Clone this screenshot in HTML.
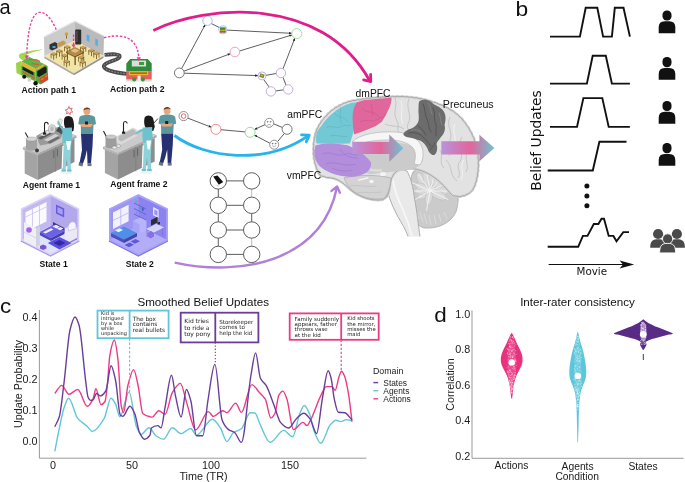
<!DOCTYPE html>
<html><head><meta charset="utf-8"><title>Figure</title>
<style>html,body{margin:0;padding:0;background:#fff;} body{width:685px;height:482px;overflow:hidden;} svg{display:block;}</style>
</head><body>
<svg width="685" height="482" viewBox="0 0 685 482">
<rect width="685" height="482" fill="#ffffff"/>
<defs>
<marker id="ah" viewBox="0 0 10 10" refX="9" refY="5" markerWidth="4" markerHeight="4" orient="auto-start-reverse"><path d="M0,1 L10,5 L0,9 Z" fill="#222"/></marker>
<linearGradient id="garr" x1="0" y1="0" x2="1" y2="0">
<stop offset="0" stop-color="#b894dc"/><stop offset="0.55" stop-color="#e2659b"/><stop offset="1" stop-color="#6dc3d3"/>
</linearGradient>
</defs>
<!-- graph 1 edges -->
<g stroke="#2a2a2a" stroke-width="0.75" fill="none">
<line x1="181.5" y1="68.8" x2="205.2" y2="24.8" marker-end="url(#ah)"/>
<line x1="211.2" y1="23.5" x2="219.5" y2="27.6"/>
<line x1="226.8" y1="30.1" x2="291.6" y2="33.3" marker-end="url(#ah)"/>
<line x1="184" y1="71.1" x2="230.2" y2="53.8" marker-end="url(#ah)"/>
<line x1="239.8" y1="50.9" x2="291.9" y2="35" marker-end="url(#ah)"/>
<line x1="184.2" y1="73.2" x2="257.8" y2="75.6" marker-end="url(#ah)"/>
<line x1="266" y1="75.3" x2="276.3" y2="73.5"/>
<line x1="263.8" y1="79.7" x2="269" y2="86.9"/>
<line x1="275.6" y1="91" x2="283.5" y2="89.8"/>
<line x1="286" y1="85.1" x2="283" y2="77.4"/>
<line x1="283" y1="68.8" x2="294.8" y2="38.3" marker-end="url(#ah)"/>
</g>
<g fill="#fff" stroke-width="0.8">
<circle cx="207.5" cy="20.7" r="4.7" stroke="#86b3e3"/>
<circle cx="222.8" cy="29.9" r="4" stroke="#86b3e3"/>
<circle cx="296.8" cy="33.6" r="5" stroke="#86d98a"/>
<circle cx="234.9" cy="52" r="4.8" stroke="#ee8aa8"/>
<circle cx="179.3" cy="72.9" r="4.9" stroke="#555"/>
<circle cx="262" cy="75.9" r="4" stroke="#b596e0"/>
<circle cx="280.9" cy="73" r="4.7" stroke="#b596e0"/>
<circle cx="270.9" cy="91.4" r="4.7" stroke="#b596e0"/>
<circle cx="288.2" cy="89.4" r="4.7" stroke="#b596e0"/>
</g>
<!-- tiny icons in graph1 nodes -->
<rect x="220" y="27.3" width="5.6" height="5.2" fill="#3f8f3a"/><rect x="220.3" y="29.8" width="5" height="1.4" fill="#e0a030"/><rect x="220" y="31.3" width="5.6" height="1.2" fill="#d04040"/>
<rect x="259.6" y="74" width="4.6" height="3.6" fill="#6b8a2a" transform="rotate(20 262 75.9)"/><rect x="260.5" y="74.8" width="2.6" height="1.6" fill="#e0a030" transform="rotate(20 262 75.9)"/>
<!-- graph 2 -->
<g stroke="#2a2a2a" stroke-width="0.75" fill="none">
<line x1="188" y1="118.2" x2="211.2" y2="127.2" marker-end="url(#ah)"/>
<line x1="220.9" y1="129.7" x2="245.1" y2="131.9"/>
<line x1="265.2" y1="124.6" x2="254.6" y2="129.4" marker-end="url(#ah)"/>
<line x1="269.8" y1="143.2" x2="254.6" y2="135.2" marker-end="url(#ah)"/>
<line x1="273.6" y1="123.8" x2="282.2" y2="127.4"/>
<line x1="284.4" y1="133.4" x2="277.6" y2="141.6"/>
</g>
<g fill="#fff" stroke-width="0.8">
<circle cx="183.6" cy="116.1" r="4.6" stroke="#777"/>
<circle cx="215.9" cy="129.3" r="5" stroke="#ef6f6f"/>
<circle cx="250.1" cy="132.3" r="5" stroke="#7fcf88"/>
<circle cx="269.2" cy="122.8" r="4.5" stroke="#777"/>
<circle cx="287.1" cy="129.3" r="5" stroke="#555"/>
<circle cx="274.2" cy="144.7" r="4.5" stroke="#777"/>
</g>
<circle cx="183.6" cy="116.1" r="2.3" fill="none" stroke="#e04848" stroke-width="0.8"/>
<g fill="none" stroke="#666" stroke-width="0.5">
<circle cx="267.7" cy="121.7" r="0.5" fill="#666"/><circle cx="270.7" cy="121.7" r="0.5" fill="#666"/>
<path d="M267.2,125.3 Q269.2,123.4 271.2,125.3"/>
<circle cx="272.7" cy="143.6" r="0.5" fill="#666"/><circle cx="275.7" cy="143.6" r="0.5" fill="#666"/>
<path d="M272.2,145.6 Q274.2,147.6 276.2,145.6"/>
</g>
<!-- graph 3 ladder -->
<g stroke="#333" stroke-width="0.8" fill="#fff">
<line x1="226.5" y1="180.9" x2="243.5" y2="180.9"/>
<line x1="226.5" y1="205.3" x2="243.5" y2="205.3"/>
<line x1="226.5" y1="230" x2="243.5" y2="230"/>
<line x1="226.5" y1="254.4" x2="243.5" y2="254.4"/>
<line x1="218.3" y1="189.1" x2="218.3" y2="197.1"/>
<line x1="218.3" y1="213.5" x2="218.3" y2="221.8"/>
<line x1="218.3" y1="238.2" x2="218.3" y2="246.2"/>
<line x1="251.7" y1="189.1" x2="251.7" y2="197.1" stroke="#aaa"/>
<line x1="251.7" y1="213.5" x2="251.7" y2="221.8"/>
<line x1="251.7" y1="238.2" x2="251.7" y2="246.2" stroke="#aaa"/>
<circle cx="218.3" cy="180.9" r="8.2"/><circle cx="251.7" cy="180.9" r="8.2"/>
<circle cx="218.3" cy="205.3" r="8.2"/><circle cx="251.7" cy="205.3" r="8.2"/>
<circle cx="218.3" cy="230" r="8.2"/><circle cx="251.7" cy="230" r="8.2"/>
<circle cx="218.3" cy="254.4" r="8.2"/><circle cx="251.7" cy="254.4" r="8.2"/>
</g>
<path d="M213.2,176.6 L217.5,175.6 L223.2,182 L218.8,184.8 Z" fill="#111"/>
<path d="M215.5,184.6 L219.5,186 L218,186.6 Z" fill="#bbb"/>
<!-- arcs -->
<path d="M153.3,30.4 C205,5 322,-6 369.8,81" fill="none" stroke="#e01e8b" stroke-width="2.8"/>
<polyline points="370.6,74.4 370.8,81.6 363.6,79.9" fill="none" stroke="#e01e8b" stroke-width="2.8" stroke-linecap="round" stroke-linejoin="round"/>
<path d="M174.4,135.5 C205,158 265,166 308.8,135.3" fill="none" stroke="#27b4ea" stroke-width="2.8"/>
<polyline points="301.5,134.9 309.3,135.1 306.2,141.8" fill="none" stroke="#27b4ea" stroke-width="2.8" stroke-linecap="round" stroke-linejoin="round"/>
<path d="M174.7,262.6 C240,277 322,262 337,187" fill="none" stroke="#b07fd8" stroke-width="2.4"/>
<polyline points="331.5,190.9 337.1,186.5 339.9,192.7" fill="none" stroke="#b07fd8" stroke-width="2.4" stroke-linecap="round" stroke-linejoin="round"/>

<defs><g id="chair"><polygon points="0,0 3.2,-1.6 6.4,0 3.2,1.6" fill="#c9a15a"/><polygon points="0,0 3.2,1.6 3.2,2.4 0,0.8" fill="#8f6a2e"/><polygon points="3.2,1.6 6.4,0 6.4,0.8 3.2,2.4" fill="#7d5c28"/><rect x="0.2" y="0.6" width="0.8" height="4.2" fill="#7a5a24"/><rect x="2.8" y="2" width="0.8" height="4.2" fill="#6a4c1e"/><rect x="5.4" y="0.6" width="0.8" height="4.2" fill="#7a5a24"/></g></defs>
<!-- ===== Restaurant room ===== -->
<g>
<polygon points="43.9,36.9 75,21.1 75,40.5 44.4,56.3" fill="#cbcbcb"/>
<polygon points="75,21.1 104,36 103.5,56 75,40.5" fill="#bababa"/>
<polyline points="43.9,36.9 75,21.1 104,36" fill="none" stroke="#e6e6e6" stroke-width="1.2"/>
<polygon points="44.4,56.3 75,40.5 103.5,56 74,73.2" fill="#f1e5a5"/>
<polygon points="44.4,56.3 74,73.2 74,75.2 44.4,58.2" fill="#a9a9a9"/>
<polygon points="74,73.2 103.5,56 103.5,58 74,75.2" fill="#969696"/>
<rect x="75.2" y="29.5" width="6" height="15" rx="1" fill="#2e2e2e"/>
<rect x="75.8" y="31" width="2" height="11" fill="#4a4a4a"/>
<polygon points="86.6,34.2 89.4,35.6 89.4,42 86.6,40.6" fill="#55aee6"/>
<polygon points="95.3,38.4 97.9,39.7 97.9,46.2 95.3,44.9" fill="#55aee6"/>
<circle cx="66.5" cy="34" r="1.8" fill="#d4a629"/><rect x="66" y="35.5" width="1" height="3" fill="#8a6a20"/>
<polygon points="49.5,44.5 55,42 57.5,43.5 57.5,48 52,50.5 49.5,49" fill="#333"/>
<rect x="52.5" y="46" width="3" height="2" fill="#4fa4d8"/>
<polygon points="57,43.5 63,40.5 65.5,41.8 65.5,44 59.5,47 57,45.7" fill="#c69a48"/>
<!-- tables & chairs -->

<polygon points="66,51.5 75,47 84,51.5 75,56" fill="#b58c45"/>
<polygon points="66,51.5 75,56 75,57.5 66,53" fill="#8a6428"/>
<polygon points="75,56 84,51.5 84,53 75,57.5" fill="#76551f"/>
<rect x="67" y="53" width="1" height="8" fill="#6e4e1e"/><rect x="74.5" y="57" width="1.2" height="8" fill="#5e421a"/><rect x="82.5" y="53" width="1" height="8" fill="#6e4e1e"/>
<polygon points="71,50.8 75,48.8 79,50.8 75,52.8" fill="#d9d3c4"/>
<ellipse cx="75" cy="50.8" rx="2.2" ry="1.1" fill="#f0b070"/>
<use href="#chair" transform="translate(61.5,55)"/>
<use href="#chair" transform="translate(78,56.8)"/>
<use href="#chair" transform="translate(63.5,61)"/>
<use href="#chair" transform="translate(79.5,61.5)"/>
<use href="#chair" transform="translate(64,46.5)"/>
<use href="#chair" transform="translate(80,47)"/>
<use href="#chair" transform="translate(50.5,53.5)"/>
<use href="#chair" transform="translate(56.2,50.5)"/>
<use href="#chair" transform="translate(88.2,50)"/>
<use href="#chair" transform="translate(93.2,52.8)"/>
</g>
<!-- road -->
<path d="M104.5,54.8 C112,54 121,53.5 119.5,57.2 C117.5,60.5 106,61.5 104,65.5 C102.5,69.5 113,72.5 127,73.8" fill="none" stroke="#4b4b4b" stroke-width="3.8" stroke-linecap="butt"/>
<path d="M104.5,54.8 C112,54 121,53.5 119.5,57.2 C117.5,60.5 106,61.5 104,65.5 C102.5,69.5 113,72.5 127,73.8" fill="none" stroke="#e8e8e8" stroke-width="0.5" stroke-dasharray="1.5,1.5"/>
<!-- store -->
<g>
<polygon points="126.3,63.4 130.2,59 147.7,59 151.7,63.4 151.7,71.5 126.3,71.5" fill="#2f8a3b"/>
<rect x="131.8" y="60.5" width="14.3" height="6" fill="#d8dfd8"/>
<rect x="139" y="62" width="5" height="3" fill="#3a9a40"/>
<rect x="126.3" y="71.3" width="25.4" height="8.4" fill="#e85c5e"/>
<rect x="128.9" y="71.2" width="19.3" height="4" fill="#efb22a"/>
<rect x="130" y="72.5" width="17" height="1.2" fill="#7a5a10"/>
<rect x="126.3" y="79.6" width="25.4" height="1.9" fill="#d8d8d8"/>
<rect x="137.6" y="75.6" width="3" height="5.5" fill="#eee"/>
<circle cx="134.2" cy="79.4" r="2" fill="#2f9a3b"/><circle cx="142.9" cy="79.4" r="2" fill="#2f9a3b"/>
</g>
<!-- food truck -->
<g>
<path d="M20.5,53.6 C26,51.5 36,49.5 43.5,49.4 C37,51 30,52.6 27,54.5 C25,56 28,58 31,58.5 L24,60.5 C19,59.5 17.5,55 20.5,53.6 Z" fill="#a6d64e"/>
<polygon points="16,63 21,61 21.5,75.5 16.5,73" fill="#9cd24a"/>
<polygon points="21.2,61.6 29.5,57 44,64.1 35.7,69.1" fill="#5db64a"/>
<path d="M29,59.8 C31,58.6 33,60.6 35.5,59.8 C37,59.3 38,61 40,61.5 M31.5,64 C34,62.8 36,65 39,64.3" stroke="#e2573c" stroke-width="1.3" fill="none"/>
<polygon points="21.2,61.6 35.7,69.1 35.7,72.5 21.2,65" fill="#efad2a"/>
<polygon points="21.2,65 35.7,72.5 35.7,81.5 21.2,74.9" fill="#5fae3c"/>
<polygon points="22.5,66.5 33.5,72.2 33.5,75.5 22.5,69.8" fill="#1e1e1e"/>
<path d="M23,72 C26,73 28,76 31,76 C32,77 34,78 35,78.5" stroke="#e0503a" stroke-width="1.2" fill="none"/>
<polygon points="35.7,69.1 44,64.1 47.6,66 48.2,79.9 40.5,84.5 35.7,81.5" fill="#58a83c"/>
<polygon points="35.7,69.1 44,64.1 45.5,65 37,70.2" fill="#efad2a"/>
<polygon points="37.2,71.2 45,66.6 46.6,67.8 46.6,72.5 39,77 37.2,76" fill="#1e1e1e"/>
<polygon points="39.5,78.5 47.8,73.6 48.2,79.6 41,83.8" fill="#d5482e"/>
<path d="M41,80 L44,78 M45,77 L47.5,75.5" stroke="#f0a020" stroke-width="0.8"/>
<circle cx="24.2" cy="76.8" r="2" fill="#111"/>
<circle cx="35.6" cy="83.2" r="2.2" fill="#111"/>
<rect x="27.8" y="77.5" width="3" height="4" fill="#cfcfcf"/>
</g>
<!-- pink dashed arrows -->
<g fill="none" stroke="#e63fa4" stroke-width="1.4" stroke-dasharray="2.4,1.6">
<path d="M26.8,57.5 C27,38 30,14 39.2,12.4 C47,11.5 53,22 56.6,30.5"/>
<path d="M73.6,34.5 L73.6,45"/>
<path d="M103.9,37.8 C110,36.2 114,35.8 119,36 C131,37 138,44 138.8,58"/>
</g>
<polygon points="24.6,55.6 29,55.6 26.8,59.4" fill="#e63fa4"/>
<polygon points="71.5,44.5 75.7,44.5 73.6,48" fill="#e63fa4"/>
<polygon points="136.6,57.2 141,57.2 138.8,61.2" fill="#e63fa4"/>

<!-- ===== Kitchen scenes ===== -->
<g id="kitc">
<polygon points="24.7,150 37.8,155 37.8,180 24.7,173.5" fill="#a4a4a4"/>
<polygon points="37.8,155 74.5,138.5 74.5,162 37.8,180" fill="#8d8d8d"/>
<polygon points="22.8,147.2 61,129.5 76.5,135.5 37.8,153.3" fill="#cacaca"/>
<polygon points="22.8,147.2 37.8,153.3 37.8,155.6 22.8,149.4" fill="#b4b4b4"/>
<polygon points="37.8,153.3 76.5,135.5 76.5,137.8 37.8,155.6" fill="#a9a9a9"/>
<line x1="55.6" y1="147.5" x2="55.6" y2="171.8" stroke="#7a7a7a" stroke-width="0.6"/>
<line x1="53.8" y1="150.5" x2="53.8" y2="158" stroke="#5e5e5e" stroke-width="0.9"/>
<line x1="57.4" y1="148.8" x2="57.4" y2="156.3" stroke="#5e5e5e" stroke-width="0.9"/>
</g>
<use href="#kitc" transform="translate(80.2,-0.5)"/>
<!-- clutter frame 1 -->
<g>
<line x1="25.2" y1="132.5" x2="28.8" y2="139" stroke="#2a2a2a" stroke-width="1.1"/>
<path d="M26,139 L37,139 L37,149 C35,151 28,151 26,149 Z" fill="#a3a3a3"/>
<ellipse cx="31.5" cy="139" rx="5.5" ry="2" fill="#d6d6d6" stroke="#8a8a8a" stroke-width="0.4"/>
<circle cx="37" cy="150.5" r="1.9" fill="#3a3a3a"/>
<path d="M36,136 L46,130.5 L58,127 L63,130 L61,138 L51,143.5 L40,145.5 Z" fill="#9a9a9a"/>
<path d="M38,138 L50,131.5 L53,133 L41,139.5 Z" fill="#5a5a5a"/>
<path d="M40,135 L48,130.5 L52,131.5 L44,136 Z" fill="#e6e6e6"/>
<path d="M44,140 L55,134 L59,135.5 L48,141.5 Z" fill="#d0d0d0"/>
<path d="M47,142 L58,136.5 L60,138 L50,143.5 Z" fill="#6e6e6e"/>
<ellipse cx="52" cy="129" rx="3.6" ry="4.2" fill="#dcdcdc" stroke="#8d8d8d" stroke-width="0.5"/>
<ellipse cx="52" cy="129" rx="1.8" ry="2.4" fill="#b8b8b8"/>
<path d="M56,131 L60,125 L63,127 L60.5,133 Z" fill="#4a4a4a"/>
<path d="M44.5,134 L44.5,124.5 C44.5,121.5 48,121.5 48.2,124.5" fill="none" stroke="#222" stroke-width="1.1"/>
<rect x="43" y="132.5" width="3.2" height="2.2" fill="#222"/>
<path d="M57,124 L59.5,118.5 L62.5,120 L60.5,125.5 Z" fill="#efefef" stroke="#9a9a9a" stroke-width="0.4"/>
<path d="M59,132 L66,128 L67,130.5 L61,134.5 Z" fill="#555"/>
</g>
<!-- clutter frame 2 -->
<g>
<line x1="103.5" y1="131" x2="107" y2="138" stroke="#2a2a2a" stroke-width="1.1"/>
<path d="M105.5,137 L116.5,137 L116.5,147 C114,149 108,149 105.5,147 Z" fill="#9d9d9d"/>
<ellipse cx="111" cy="137" rx="5.5" ry="2.1" fill="#c9c9c9" stroke="#888" stroke-width="0.4"/>
<ellipse cx="114.5" cy="147.5" rx="2.4" ry="1.5" fill="#e9e9e9" stroke="#777" stroke-width="0.4"/>
<ellipse cx="118.5" cy="146" rx="2.2" ry="1.4" fill="#e9e9e9" stroke="#777" stroke-width="0.4"/>
<path d="M117,136 L133,127.5 L137,129.5 L137,136 L121,144.5 L117,142.5 Z" fill="#dadada"/>
<path d="M118.5,136.5 L132.5,129 L135.5,130.5 L135.5,134 L121.5,141.5 L118.5,140 Z" fill="#b9b9b9"/>
<path d="M123.5,132.5 L123.5,123.5 C123.5,120.8 127,120.8 127.2,123.5" fill="none" stroke="#222" stroke-width="1.1"/>
<rect x="122" y="131.6" width="3.2" height="2.2" fill="#222"/>
<ellipse cx="150.5" cy="126.5" rx="4.2" ry="3.6" fill="#2f2f2f"/>
<line x1="153" y1="124" x2="158" y2="118.5" stroke="#444" stroke-width="1"/>
</g>

<g id="kitp">
<!-- woman -->
<path d="M64.2,119 C64.6,115.2 71.4,115 72.8,118.8 C74,122 74.6,127 73.4,131 L71,132 L70,128.5 L65.5,128.5 C64,126 63.6,122 64.2,119 Z" fill="#1c1c1c"/>
<path d="M62.5,128 L72,127.5 L72.2,141 L71,145 L63,145 L62.2,138 Z" fill="#6cc3cf"/>
<path d="M63,143 L71.2,143 L70.5,160 L71,170 L67.5,170.5 L66.8,158 L65.5,170.5 L62.2,170 L62.4,155 Z" fill="#8ed2db"/>
<path d="M66,141 L71,141 L69.5,150 L67.5,150 Z" fill="#ffffff"/>
<line x1="63" y1="146" x2="62.2" y2="168" stroke="#fff" stroke-width="1.2"/>
<rect x="61.5" y="169.5" width="4.5" height="2.2" fill="#6cc3cf"/><rect x="67" y="169.5" width="4.5" height="2.2" fill="#6cc3cf"/>
<!-- man -->
<circle cx="86.9" cy="111.5" r="3.4" fill="#e9a67b"/>
<path d="M83.4,110.5 C83.4,106.5 90.4,106.5 90.4,110 L88.5,109 L85,109.5 Z" fill="#6a3418"/>
<path d="M79.5,117 C80.5,115.5 84,115 87,115 C90,115 94,115.5 95,117.5 L96,124 L93.5,125 L93,134 L81,134 L80.8,125 L78.3,124 Z" fill="#5a979e"/>
<path d="M80,124 L93,124 L91,127 L82,127 Z" fill="#e9a67b"/>
<rect x="85" y="121.5" width="3" height="3" fill="#222"/>
<path d="M81,134 L93,134 L92.5,146 L91,163.5 L87.5,163.5 L87,150 L85,158 L82.5,165 L79.5,163 L82,150 Z" fill="#273171"/>
<path d="M79,162 L83,163.5 L82.5,166.5 L78.5,165.5 Z" fill="#6b7580"/>
<rect x="87.5" y="163.3" width="4" height="2.8" fill="#6b7580"/>
<ellipse cx="66" cy="173" rx="6" ry="1.3" fill="#eef2f3"/>
</g>
<use href="#kitp" transform="translate(80.2,-0.5)"/>

<path d="M63.5,130 L60,126 L58.5,122" stroke="#6cc3cf" stroke-width="2" fill="none" stroke-linecap="round"/>
<path d="M143.6,129.5 L139.5,131.5 L136,133.5" stroke="#6cc3cf" stroke-width="2" fill="none" stroke-linecap="round"/>

<!-- star burst -->
<path d="M69,106.5 L69.8,108.8 L72.2,108.2 L71,110.3 L72.8,112 L70.4,112.2 L70,114.6 L68.6,112.7 L66.5,113.8 L67.2,111.5 L65.2,110 L67.6,109.4 Z" fill="#fff" stroke="#d93040" stroke-width="0.7"/>

<!-- ===== State rooms ===== -->
<g>
<polygon points="50.5,193.9 79.3,208.4 79.3,241 50.5,256 20.8,241 20.8,208.4" fill="#d8d1f8"/>
<polygon points="22.6,209.5 50.5,196 50.5,226 22.6,239.8" fill="#c4b8f0"/>
<polygon points="50.5,196 77.5,209.5 77.5,239.8 50.5,226" fill="#b4a8ed"/>
<polygon points="22.6,239.8 50.5,226 77.5,239.8 50.5,253.6" fill="#dfe3f8"/>
<polyline points="20.8,241 50.5,256 79.3,241" fill="none" stroke="#a898ea" stroke-width="1.2"/>
<polygon points="25.5,212.2 46.5,202 46.5,221.6 25.5,231.8" fill="#fbfbff"/>
<g stroke="#cfc6f2" stroke-width="0.9"><line x1="32.5" y1="208.8" x2="32.5" y2="228.4"/><line x1="39.5" y1="205.4" x2="39.5" y2="225"/><line x1="25.5" y1="217" x2="46.5" y2="206.8"/></g>
<polygon points="56,204.5 64.2,208.6 64.2,217.6 56,213.5" fill="#6a5ce2"/>
<polygon points="57.5,207 62.7,209.6 62.7,215 57.5,212.4" fill="#a7a0f2"/>
<polygon points="53,222 64.4,228 64.4,231 53,225" fill="#3d3680"/>
<polygon points="39.5,232 53,225 64.4,231 51,238" fill="#6c62e6"/>
<polygon points="39.5,232 51,238 51,241 39.5,235" fill="#4f46c0"/>
<polygon points="51,238 64.4,231 64.4,234 51,241" fill="#463ea8"/>
<polygon points="52.5,226.5 56,224.8 60,226.8 56.5,228.5" fill="#eceaff"/>
<polygon points="56.8,228.7 60.3,227 63.6,228.6 60.1,230.3" fill="#eceaff"/>
<polygon points="43,232.2 51,228.2 53.5,229.5 45.5,233.5" fill="#f2f0ff"/>
<polygon points="24,222 36,228 36,247 24,241" fill="#efeff7"/>
<polygon points="36,228 39.8,226 39.8,245 36,247" fill="#d2d0e4"/>
<line x1="24" y1="232" x2="36" y2="238" stroke="#cfcde0" stroke-width="0.8"/>
<circle cx="29" cy="230" r="2.8" fill="#a262ea"/>
<polygon points="47.8,243 59.5,237 71.7,243 59.5,249.5" fill="#5a4ee0"/>
<polygon points="53.5,243 59.5,240 65.5,243 59.5,246" fill="#3428a8"/>
<polygon points="65,228.5 72,225 77,227.5 77,238 70,241.5 65,239" fill="#ebe8f5"/>
<polygon points="70,241.5 77,238 77,239.5 70,243" fill="#8a82c0"/>
<path d="M68.2,228 C68,221.5 75.8,219 76,226 L76,228.5 L68.5,231 Z" fill="#f5f4fc" stroke="#b0a8d8" stroke-width="0.5"/>
<polygon points="40,246 43.2,244.4 46.4,246 46.4,248.5 43.2,250.1 40,248.5" fill="#7a52d6"/>
</g>
<g>
<polygon points="138.4,194 168,208.4 168,241 138.4,256 109,241 109,208.4" fill="#aaa3f6"/>
<polygon points="110.8,209.5 138.4,196.2 138.4,226 110.8,239.6" fill="#9d95f3"/>
<polygon points="138.4,196.2 166.2,209.5 166.2,239.6 138.4,226" fill="#8b83ef"/>
<polygon points="110.8,239.6 138.4,226 166.2,239.6 138.4,253.4" fill="#b3adf8"/>
<polyline points="109,241 138.4,256 168,241" fill="none" stroke="#7d74e8" stroke-width="1.2"/>
<polygon points="113,212.5 128.6,204.8 128.6,221.2 113,228.9" fill="#f2f2ff"/>
<g stroke="#b5b0f6" stroke-width="0.8"><line x1="120.8" y1="208.6" x2="120.8" y2="225"/><line x1="113" y1="220.5" x2="128.6" y2="212.8"/></g>
<g stroke="#6a62da" stroke-width="1"><line x1="134" y1="203" x2="146" y2="209"/><line x1="134" y1="208.5" x2="146" y2="214.5"/><line x1="134" y1="214" x2="146" y2="220"/></g>
<rect x="135.5" y="199.8" width="1.6" height="3.2" fill="#4fb0e0"/><rect x="138" y="200.8" width="1.6" height="3" fill="#e070b0"/>
<rect x="139.5" y="206.8" width="1.6" height="2.8" fill="#3f9fd0"/><rect x="142" y="207.8" width="1.6" height="3" fill="#5050c0"/>
<rect x="136" y="211.6" width="1.6" height="2.8" fill="#8090e8"/>
<polygon points="153,207 158.7,209.8 158.7,218 153,215.2" fill="#e2dfff"/>
<polygon points="154.3,209.4 157.4,211 157.4,215.8 154.3,214.2" fill="#9a92f0"/>
<polygon points="133,221 140,217.6 146.5,220.8 146.5,230 139.5,233.5 133,230.2" fill="#b8b4fa"/>
<polygon points="133,221 139.5,224.2 139.5,233.5 133,230.2" fill="#a8a3f6"/>
<polygon points="111,233 124,226.5 137,233 124,239.5" fill="#4f90e6"/>
<polygon points="111,233 124,239.5 124,243 111,236.5" fill="#4a4fc6"/>
<polygon points="124,239.5 137,233 137,236.5 124,243" fill="#4246b0"/>
<polygon points="115,230.5 119.5,228.3 123,230 118.5,232.2" fill="#e9f0ff"/>
<polygon points="146,229 156.5,223.8 164,227.6 153.5,232.8" fill="#d6d4fb"/>
<polygon points="146,229 153.5,232.8 153.5,234 146,230.2" fill="#9a94e8"/>
<line x1="147" y1="230" x2="147" y2="237" stroke="#7a72d8" stroke-width="0.8"/><line x1="162.5" y1="228.5" x2="162.5" y2="235.5" stroke="#7a72d8" stroke-width="0.8"/>
<polygon points="151,220 157.5,216.8 157.5,222.5 151,225.7" fill="#2e2e3a"/>
<rect x="157.5" y="222" width="2.5" height="2.5" fill="#2e2e3a"/>
<path d="M147.5,233 L151,231 L154,233 L154,236.5 L150.5,238.5 L147.5,236.5 Z" fill="#8a6ee8"/>
<polygon points="124.5,245 129.5,242.5 134,244.8 129,247.3" fill="#5a5ad6"/>
<polygon points="130.5,241.5 135.5,239 140,241.3 135,243.8" fill="#6558d8"/>
</g>

<g>
<!-- cerebellum -->
<path d="M413,172 C420,165 440,164 452,171 C459,180 460,200 456,212 C451,223 438,229 425,228 C416,227 411,215 411,200 C410,188 410,178 413,172 Z" fill="#cbcbcb" stroke="#ababab" stroke-width="0.8"/>
<clipPath id="cbclip"><path d="M413,172 C420,165 440,164 452,171 C459,180 460,200 456,212 C451,223 438,229 425,228 C416,227 411,215 411,200 C410,188 410,178 413,172 Z"/></clipPath>
<g clip-path="url(#cbclip)">
<ellipse cx="423.7" cy="182.0" rx="11.0" ry="4.5" transform="rotate(-125 423.7 182.0)" fill="#dadada" stroke="#bdbdbd" stroke-width="0.5"/><ellipse cx="427.7" cy="178.2" rx="13.0" ry="4.5" transform="rotate(-100 427.7 178.2)" fill="#dadada" stroke="#bdbdbd" stroke-width="0.5"/><ellipse cx="433.4" cy="178.4" rx="13.0" ry="4.5" transform="rotate(-75 433.4 178.4)" fill="#dadada" stroke="#bdbdbd" stroke-width="0.5"/><ellipse cx="438.0" cy="181.4" rx="12.5" ry="4.5" transform="rotate(-50 438.0 181.4)" fill="#dadada" stroke="#bdbdbd" stroke-width="0.5"/><ellipse cx="440.4" cy="186.1" rx="11.5" ry="4.2" transform="rotate(-25 440.4 186.1)" fill="#dadada" stroke="#bdbdbd" stroke-width="0.5"/><ellipse cx="440.0" cy="191.0" rx="10.0" ry="4.0" transform="rotate(0 440.0 191.0)" fill="#dadada" stroke="#bdbdbd" stroke-width="0.5"/><ellipse cx="438.2" cy="194.8" rx="9.0" ry="4.0" transform="rotate(25 438.2 194.8)" fill="#dadada" stroke="#bdbdbd" stroke-width="0.5"/><ellipse cx="423.9" cy="194.5" rx="7.0" ry="3.5" transform="rotate(150 423.9 194.5)" fill="#dadada" stroke="#bdbdbd" stroke-width="0.5"/><ellipse cx="422.5" cy="191.0" rx="7.5" ry="3.5" transform="rotate(180 422.5 191.0)" fill="#dadada" stroke="#bdbdbd" stroke-width="0.5"/><ellipse cx="422.7" cy="187.6" rx="8.0" ry="3.5" transform="rotate(205 422.7 187.6)" fill="#dadada" stroke="#bdbdbd" stroke-width="0.5"/><ellipse cx="428.8" cy="197.9" rx="7.0" ry="3.5" transform="rotate(100 428.8 197.9)" fill="#dadada" stroke="#bdbdbd" stroke-width="0.5"/>
<path d="M430,191 L418.5,174.6 M430,191 L426.5,171.3 M430,191 L435.2,171.7 M430,191 L442.9,175.7 M430,191 L448.1,182.5 M430,191 L450.0,191.0 M430,191 L448.1,199.5 M430,191 L412.7,201.0 M430,191 L410.0,191.0 M430,191 L411.9,182.5 M430,191 L426.5,210.7" stroke="#f6f6f6" stroke-width="0.9" fill="none"/>
<g stroke="#e2e2e2" stroke-width="0.7" fill="none">
<path d="M416,210 L419,219 M420,212 L423,222 M424,214 L427,224 M429,215 L431,225 M434,215 L436,224 M439,214 L441,222 M444,212 L447,219"/>
</g>
</g>
<!-- brainstem -->
<path d="M384,178 C387,192 391,204 397,215 C402,224 406,230 408,236.5 L420,236.5 C418.5,226 417,212 414.5,198 C413,187 411,178 407,171 C400,168 390,170 384,178 Z" fill="#e9e9e9"/>
<path d="M408,236.5 C406,230 402,224 397,215 C391,204 387,192 384,178 C390,170 400,168 407,171 C411,178 413,187 414.5,198 C417,212 418.5,226 420,236.5" fill="none" stroke="#a6a6a6" stroke-width="0.9"/>
<path d="M392,176 C394,188 398,200 403,210 C407,219 410,228 412,236" fill="none" stroke="#f8f8f8" stroke-width="1.6"/>
<!-- cerebrum -->
<path d="M320.0,175.0 Q318.0,173.2 317.7,170.5 Q315.9,168.4 315.9,165.7 Q314.3,163.3 314.6,160.5 Q313.3,158.4 314.0,156.0 Q312.8,153.7 313.7,151.2 Q312.8,148.7 313.8,146.2 Q313.0,143.5 314.2,141.0 Q313.6,138.5 314.9,136.4 Q314.6,133.7 316.3,131.6 Q316.3,129.1 318.1,127.4 Q318.4,124.8 320.5,123.2 Q321.1,120.7 323.3,119.4 Q324.0,117.0 326.3,116.0 Q327.3,113.5 329.7,112.5 Q331.0,110.2 333.5,109.5 Q334.9,107.4 337.5,106.9 Q339.0,104.9 341.6,104.6 Q343.4,102.8 346.0,102.8 Q348.0,101.1 350.6,101.4 Q352.8,100.0 355.3,100.5 Q357.5,99.2 360.0,99.8 Q362.3,98.4 364.9,99.0 Q367.1,97.7 369.5,98.4 Q371.9,97.2 374.4,97.9 Q376.9,96.8 379.6,97.6 Q382.2,96.4 384.9,97.2 Q387.5,96.1 390.1,97.0 Q392.5,95.9 395.0,96.8 Q397.3,95.8 399.6,96.8 Q402.1,95.8 404.5,96.9 Q407.0,96.1 409.4,97.3 Q411.9,96.6 414.2,97.9 Q416.7,97.2 418.9,98.6 Q421.4,98.1 423.6,99.5 Q426.0,99.1 428.0,100.7 Q430.5,100.4 432.4,102.0 Q435.9,102.1 438.7,104.2 Q442.1,104.6 444.7,106.8 Q448.0,107.4 450.4,109.8 Q453.5,110.7 455.5,113.2 Q458.2,114.3 459.7,116.9 Q462.3,118.3 463.5,121.1 Q465.9,122.7 466.8,125.6 Q469.2,127.5 469.8,130.4 Q472.0,132.5 472.4,135.5 Q474.4,137.8 474.5,140.8 Q476.3,143.2 476.1,146.3 Q477.7,148.9 477.3,151.9 Q478.6,154.6 477.9,157.5 Q479.0,160.2 478.2,163.0 Q479.1,165.7 478.0,168.4 Q478.8,171.1 477.5,173.6 Q478.1,176.2 476.7,178.5 Q477.0,181.1 475.4,183.1 Q475.5,185.6 473.8,187.4 Q473.3,190.0 471.1,191.5 Q469.6,193.8 467.0,194.3 Q465.0,196.1 462.4,195.9 Q460.3,197.2 457.9,196.4 Q455.3,196.1 452.8,195.7 Q451.2,194.2 449.7,192.6 Q447.9,190.5 446.2,188.5 Q444.2,186.3 442.2,184.2 Q440.5,182.7 438.9,181.1 Q437.0,179.6 435.2,178.1 Q433.1,176.7 431.1,175.3 Q428.8,174.0 426.6,172.8 Q424.1,171.7 421.7,170.7 Q419.0,170.0 416.4,169.2 Q413.9,168.9 411.4,168.5 Q409.1,168.5 406.9,168.5 Q404.4,168.7 402.0,169.0 Q399.8,169.8 397.6,170.7 Q395.7,172.2 393.9,173.8 Q392.7,176.2 391.5,178.5 Q390.9,181.0 390.3,183.6 Q390.0,186.1 389.6,188.5 Q389.1,190.8 388.6,193.0 Q387.6,195.0 386.5,197.0 Q384.6,198.4 382.7,199.7 Q380.3,199.9 377.9,200.1 Q375.2,199.9 372.4,199.7 Q369.8,199.1 367.2,198.5 Q364.6,197.6 362.1,196.7 Q359.7,195.6 357.4,194.5 Q355.2,193.1 353.0,191.7 Q351.2,190.3 349.4,188.8 Q347.7,187.2 346.0,185.7 Q344.1,184.2 342.2,182.6 Q340.2,181.4 338.2,180.1 Q336.1,179.3 334.0,178.5 Q331.5,178.1 329.0,177.6 Q326.4,178.0 324.2,176.5 Q321.7,176.7 320.0,175.0 Z" fill="#e2e2e2" stroke="#d4d4d4" stroke-width="2.6"/>
<path d="M320.0,175.0 Q318.0,173.2 317.7,170.5 Q315.9,168.4 315.9,165.7 Q314.3,163.3 314.6,160.5 Q313.3,158.4 314.0,156.0 Q312.8,153.7 313.7,151.2 Q312.8,148.7 313.8,146.2 Q313.0,143.5 314.2,141.0 Q313.6,138.5 314.9,136.4 Q314.6,133.7 316.3,131.6 Q316.3,129.1 318.1,127.4 Q318.4,124.8 320.5,123.2 Q321.1,120.7 323.3,119.4 Q324.0,117.0 326.3,116.0 Q327.3,113.5 329.7,112.5 Q331.0,110.2 333.5,109.5 Q334.9,107.4 337.5,106.9 Q339.0,104.9 341.6,104.6 Q343.4,102.8 346.0,102.8 Q348.0,101.1 350.6,101.4 Q352.8,100.0 355.3,100.5 Q357.5,99.2 360.0,99.8 Q362.3,98.4 364.9,99.0 Q367.1,97.7 369.5,98.4 Q371.9,97.2 374.4,97.9 Q376.9,96.8 379.6,97.6 Q382.2,96.4 384.9,97.2 Q387.5,96.1 390.1,97.0 Q392.5,95.9 395.0,96.8 Q397.3,95.8 399.6,96.8 Q402.1,95.8 404.5,96.9 Q407.0,96.1 409.4,97.3 Q411.9,96.6 414.2,97.9 Q416.7,97.2 418.9,98.6 Q421.4,98.1 423.6,99.5 Q426.0,99.1 428.0,100.7 Q430.5,100.4 432.4,102.0 Q435.9,102.1 438.7,104.2 Q442.1,104.6 444.7,106.8 Q448.0,107.4 450.4,109.8 Q453.5,110.7 455.5,113.2 Q458.2,114.3 459.7,116.9 Q462.3,118.3 463.5,121.1 Q465.9,122.7 466.8,125.6 Q469.2,127.5 469.8,130.4 Q472.0,132.5 472.4,135.5 Q474.4,137.8 474.5,140.8 Q476.3,143.2 476.1,146.3 Q477.7,148.9 477.3,151.9 Q478.6,154.6 477.9,157.5 Q479.0,160.2 478.2,163.0 Q479.1,165.7 478.0,168.4 Q478.8,171.1 477.5,173.6 Q478.1,176.2 476.7,178.5 Q477.0,181.1 475.4,183.1 Q475.5,185.6 473.8,187.4 Q473.3,190.0 471.1,191.5 Q469.6,193.8 467.0,194.3 Q465.0,196.1 462.4,195.9 Q460.3,197.2 457.9,196.4 Q455.3,196.1 452.8,195.7 Q451.2,194.2 449.7,192.6 Q447.9,190.5 446.2,188.5 Q444.2,186.3 442.2,184.2 Q440.5,182.7 438.9,181.1 Q437.0,179.6 435.2,178.1 Q433.1,176.7 431.1,175.3 Q428.8,174.0 426.6,172.8 Q424.1,171.7 421.7,170.7 Q419.0,170.0 416.4,169.2 Q413.9,168.9 411.4,168.5 Q409.1,168.5 406.9,168.5 Q404.4,168.7 402.0,169.0 Q399.8,169.8 397.6,170.7 Q395.7,172.2 393.9,173.8 Q392.7,176.2 391.5,178.5 Q390.9,181.0 390.3,183.6 Q390.0,186.1 389.6,188.5 Q389.1,190.8 388.6,193.0 Q387.6,195.0 386.5,197.0 Q384.6,198.4 382.7,199.7 Q380.3,199.9 377.9,200.1 Q375.2,199.9 372.4,199.7 Q369.8,199.1 367.2,198.5 Q364.6,197.6 362.1,196.7 Q359.7,195.6 357.4,194.5 Q355.2,193.1 353.0,191.7 Q351.2,190.3 349.4,188.8 Q347.7,187.2 346.0,185.7 Q344.1,184.2 342.2,182.6 Q340.2,181.4 338.2,180.1 Q336.1,179.3 334.0,178.5 Q331.5,178.1 329.0,177.6 Q326.4,178.0 324.2,176.5 Q321.7,176.7 320.0,175.0 Z" fill="none" stroke="#a4a4a4" stroke-width="0.9"/>
<!-- temporal lobe -->
<path d="M344,178 C352,176 362,175 372,175.5 C380,176 386,176.5 391,178 C390,186 389,193 384,198.5 C372,200.5 361,197 353,191 C349,187.5 346,183 344,178 Z" fill="#d3d3d3" stroke="#ababab" stroke-width="0.7"/>
<g stroke="#b9b9b9" stroke-width="0.5" fill="none">
<path d="M350,186 C358,184 366,188 376,186 M356,193 C364,191 372,194 382,192"/>
</g>
<!-- inner gray (thalamus etc) -->
<path d="M358,152 C366,146 380,143 396,143 C410,143 420,148 423,156 C424,163 418,169 408,170 C396,171 384,173 372,174 C362,174 356,168 356,161 Z" fill="#cbcbcb"/>
<ellipse cx="383" cy="174" rx="3" ry="2" fill="#f4f4f4"/>
<ellipse cx="371.5" cy="181.5" rx="2.3" ry="1.7" fill="#f4f4f4"/>
<path d="M358,179.5 L368,177 L368.5,178.6 L358.5,181 Z" fill="#f4f4f4"/>
<path d="M360,160 C364,168 372,172 382,170" fill="none" stroke="#dcdcdc" stroke-width="2.5"/>
<!-- corpus callosum -->
<path d="M352,142 C360,134 378,131 396,132 C412,133 422,141 423,152 C423.5,158 422,162 420,165 L414,164 C416,158 416,152 413,148 C408,142 398,140 388,140 C374,140 362,142 356,146 Z" fill="#f6f6f6" stroke="#b4b4b4" stroke-width="0.7"/>
<!-- gyri lines -->
<g stroke="#b3b3b3" stroke-width="0.6" fill="none">
<path d="M395,98 C398,106 392,112 397,121 C400,126 396,130 399,132"/>
<path d="M409,99 C405,108 413,115 408,124 C406,128 410,131 409,133"/>
<path d="M385,124 C391,127 398,125 404,129"/>
<path d="M450,117 C445,126 455,133 449,142 C446,147 452,151 449,156"/>
<path d="M462,137 C456,146 466,155 459,163 C456,168 462,173 458,178"/>
<path d="M446,160 C453,166 449,175 457,181"/>
<path d="M468,152 C463,158 470,165 466,172"/>
<path d="M440,150 C444,156 438,162 444,168"/>
</g>
<g stroke="#f4f4f4" stroke-width="0.9" fill="none">
<path d="M401,101 C404,110 399,116 403,124"/>
<path d="M455,124 C451,132 458,138 454,146"/>
<path d="M464,160 C459,166 465,172 461,180"/>
</g>
<!-- colored regions -->
<path d="M317.2,142.8 C316.5,140 316.4,136 317.4,133 C318.5,130 320.5,128 322.4,126 C323.8,123.5 325,121.8 326.5,120.3 C328,118.5 329.5,117 331.2,115.6 C334,113 337.5,110 342,107.8 C345,106 348.5,104.5 352.5,103.5 C354,103.2 355.5,103.1 357.3,103.1 C355,106 353.6,110 353.4,113.7 C353.2,118 353.4,123 353.4,128.1 C352.5,133 351,138 349.4,142.6 C340,142.9 328,143 317.2,142.8 Z" fill="#72c8d4" stroke="#72c8d4" stroke-width="1.6" stroke-linejoin="round"/>
<path d="M357.3,103.1 C362,101.2 366,100.6 370.2,100.4 C377,99.8 384,98.8 390.8,98.5 C390.8,101.5 390,104.5 388.8,107.1 C386.5,112 384,117 381,121.5 C377,125 373,127 369.1,128.1 C364,130 359,132 354.7,133.4 C354,128 353.4,122 353.4,117 C353.4,112 354.5,107 357.3,103.1 Z" fill="#e0669b" stroke="#e0669b" stroke-width="1.6" stroke-linejoin="round"/>
<path d="M316.2,146 C320,145 324,144.5 328.7,144.4 C335,144.2 341,145 347.3,146 C353,148 358,151 361.9,154.3 C365,157 368,159.5 370.2,162.6 C371,167 368,171 364,173 C360,175 356,176 351.5,176.1 C344,175.8 337,174.5 330.7,172 C326,170 322,167.5 319.3,164.7 C316.5,161 315.3,158 315.2,154.3 C315,151 315.4,148 316.2,146 Z" fill="#b38edd" stroke="#b38edd" stroke-width="1.6" stroke-linejoin="round"/>
<g fill="#6c6c6c">
<path d="M419.5,101 C424,98.5 430,100 433.5,104 C437,106 441.5,107.5 443.8,111.5 C446.5,116 445.5,121 444.5,125 C446,129 444,134 441,137 C439,140 437,141.5 436.5,144 C438,148 437,153 434.5,155 C431,155.5 428.5,152 427.5,148.5 C425.5,145 423.5,142 420,140.5 C416,139.5 413,138 409,137.5 C405.5,137 403,135.5 403.5,133.5 C405,131 408,129.5 411.5,128.5 C414.5,127 417.5,124.5 418.5,121 C419.5,117 418,113 418.5,108.5 C418.7,105 418.5,102.5 419.5,101 Z"/>
</g>
<g stroke="#4a4a4a" stroke-width="0.7" fill="none" stroke-linecap="round">
<path d="M423,104 C426,109 424,114 427,119 C429,123 428,128 431,132"/>
<path d="M433,108 C436,113 433,119 436,124 C437,128 435,132 436,136"/>
<path d="M409,133 C414,132 419,133 423,137 C426,140 428,143 431,146"/>
<path d="M418,126 C421,128 424,131 426,135"/>
<path d="M430,150 C432,147 434,146 435,143"/>
</g>
<g stroke="#8d8d8d" stroke-width="0.7" fill="none" stroke-linecap="round">
<path d="M428,103 C431,106 430,110 432,114"/>
<path d="M439,113 C441,117 440,121 442,125"/>
<path d="M412,130 C416,129 419,130 421,132"/>
</g>


<g stroke="#4f96a2" stroke-width="0.5" fill="none" opacity="0.55">
<path d="M326,128 C332,124 336,130 342,126 C345,124 348,127 351,125"/>
<path d="M334,113 C338,118 344,116 348,122"/>
<path d="M330,136 C338,134 342,138 348,136"/>
<path d="M340,106 C342,112 338,118 342,124"/>
</g>
<g stroke="#a84a74" stroke-width="0.5" fill="none" opacity="0.55">
<path d="M362,108 C366,114 374,110 378,116 C380,119 384,118 386,114"/>
<path d="M360,122 C366,118 372,124 380,118"/>
<path d="M372,104 C370,108 374,112 372,116"/>
</g>
<g stroke="#8762b6" stroke-width="0.5" fill="none" opacity="0.65">
<path d="M322,154 C330,150 338,158 346,154 C350,152 354,156 358,155"/>
<path d="M326,164 C336,160 346,168 356,164"/>
<path d="M340,149 C344,156 350,158 358,158"/>
<path d="M332,168 C338,171 346,172 352,170"/>
</g>
<!-- arrows -->
<path d="M352.3,141.7 L389.3,141.7 L389.3,134.6 L403.4,148.2 L389.3,161.8 L389.3,154 L352.3,154 Z" fill="url(#garr)"/>
<path d="M441.3,141.3 L479.4,141.3 L479.4,134.7 L494.4,148 L479.4,161.2 L479.4,154.6 L441.3,154.6 Z" fill="url(#garr)"/>
</g>

<text x="-0.6" y="13.6" style='font-family:"Liberation Sans",sans-serif;font-size:20px;fill:#111'>a</text>
<text transform="translate(515.6,16.2) scale(1.14,1)" style='font-family:"Liberation Sans",sans-serif;font-size:20px;fill:#111'>b</text>
<text transform="translate(0,312.6) scale(1.12,1)" style='font-family:"Liberation Sans",sans-serif;font-size:20px;fill:#111'>c</text>
<text transform="translate(434.3,321.6) scale(1.12,1.03)" style='font-family:"Liberation Sans",sans-serif;font-size:20px;fill:#111'>d</text>
<text x="21.6" y="93.4" style='font-family:"Liberation Sans",sans-serif;font-weight:bold;font-size:8.6px;fill:#111'>Action path 1</text>
<text x="110" y="92.1" style='font-family:"Liberation Sans",sans-serif;font-weight:bold;font-size:8.6px;fill:#111'>Action path 2</text>
<text x="22.8" y="187.8" style='font-family:"Liberation Sans",sans-serif;font-weight:bold;font-size:8.6px;fill:#111'>Agent frame 1</text>
<text x="110.2" y="186.9" style='font-family:"Liberation Sans",sans-serif;font-weight:bold;font-size:8.6px;fill:#111'>Agent frame 2</text>
<text x="39.5" y="267.2" style='font-family:"Liberation Sans",sans-serif;font-weight:bold;font-size:8.6px;fill:#111'>State 1</text>
<text x="125.7" y="267.2" style='font-family:"Liberation Sans",sans-serif;font-weight:bold;font-size:8.6px;fill:#111'>State 2</text>
<text x="355.6" y="96.8" style='font-family:"Liberation Sans",sans-serif;font-size:10.3px;fill:#111'>dmPFC</text>
<text x="287.3" y="117.9" style='font-family:"Liberation Sans",sans-serif;font-size:10.3px;fill:#111'>amPFC</text>
<text x="286.8" y="178.5" style='font-family:"Liberation Sans",sans-serif;font-size:10.3px;fill:#111'>vmPFC</text>
<text x="442.8" y="108.3" style='font-family:"Liberation Sans",sans-serif;font-size:10.3px;fill:#111;font-size:10.65px'>Precuneus</text>
<polyline points="550,36.6 579.9,36.6 585.7,7.8 597.3,7.8 603.1,36.6 611.9,36.6 614.8,7.8 623.5,7.8 629.9,36.6" fill="none" stroke="#111" stroke-width="1.9" stroke-linejoin="miter"/>
<polyline points="550,83.6 586.9,83.6 592.7,55.7 605.8,55.7 611.9,83.6 629.9,83.6" fill="none" stroke="#111" stroke-width="1.9" stroke-linejoin="miter"/>
<polyline points="550,126.9 577,126.9 583.4,98.1 602.3,98.1 608.7,126.9 629.9,126.9" fill="none" stroke="#111" stroke-width="1.9" stroke-linejoin="miter"/>
<polyline points="547.7,170.5 592.8,170.5 599.4,141.8 626.5,141.8" fill="none" stroke="#111" stroke-width="1.9" stroke-linejoin="miter"/>
<polyline points="547.7,246.8 578.2,246.8 582.9,235.9 587.5,235.9 593.8,224 598.4,224 601.5,218.8 604,218.8 608.7,235.9 613.4,235.9 616.5,241.2 623.3,232.1 629,232.1" fill="none" stroke="#111" stroke-width="1.9" stroke-linejoin="miter"/>
<circle cx="586.9" cy="186.1" r="2.5" fill="#111"/>
<circle cx="586.9" cy="196" r="2.5" fill="#111"/>
<circle cx="586.9" cy="205.7" r="2.5" fill="#111"/>
<line x1="548.6" y1="264.5" x2="630" y2="264.5" stroke="#111" stroke-width="1.2"/>
<path d="M619.6,260.6 L634.2,264.5 L619.6,268.4 L623,264.5 Z" fill="#111"/>
<text x="591.8" y="274.6" text-anchor="middle" style='font-family:"DejaVu Sans","Liberation Sans",sans-serif;fill:#111;font-size:10.3px'>Movie</text>
<text transform="translate(540.8,140.5) rotate(-90)" text-anchor="middle" style='font-family:"DejaVu Sans","Liberation Sans",sans-serif;fill:#111;font-size:13.8px'>Belief Updates</text>
<rect x="662.5" y="10.4" width="9" height="10.2" rx="4.2" fill="#111"/><path d="M658.7,33.2 L658.7,27.3 Q658.7,21.3 664.7,21.3 L669.3,21.3 Q675.3,21.3 675.3,27.3 L675.3,33.2 Z" fill="#111"/>
<rect x="662.5" y="57" width="9" height="10.2" rx="4.2" fill="#111"/><path d="M658.7,79.8 L658.7,73.9 Q658.7,67.9 664.7,67.9 L669.3,67.9 Q675.3,67.9 675.3,73.9 L675.3,79.8 Z" fill="#111"/>
<rect x="662.5" y="100.9" width="9" height="10.2" rx="4.2" fill="#111"/><path d="M658.7,123.7 L658.7,117.80000000000001 Q658.7,111.80000000000001 664.7,111.80000000000001 L669.3,111.80000000000001 Q675.3,111.80000000000001 675.3,117.80000000000001 L675.3,123.7 Z" fill="#111"/>
<rect x="662.5" y="143" width="9" height="10.2" rx="4.2" fill="#111"/><path d="M658.7,165.8 L658.7,159.9 Q658.7,153.9 664.7,153.9 L669.3,153.9 Q675.3,153.9 675.3,159.9 L675.3,165.8 Z" fill="#111"/>
<circle cx="658.1" cy="234" r="5.1" fill="#4a4a4a"/>
<circle cx="676.9" cy="234" r="5.1" fill="#4a4a4a"/>
<path d="M650.2,247.7 C650.2,240.2 653.36,239.2 658.1,239.2 C662.84,239.2 666,240.2 666,247.7 Z" fill="#4a4a4a"/>
<path d="M668.8,247.7 C668.8,240.2 672.02,239.2 676.8499999999999,239.2 C681.68,239.2 684.9,240.2 684.9,247.7 Z" fill="#4a4a4a"/>
<circle cx="667.6" cy="238.9" r="5.1" fill="#4a4a4a" stroke="#fff" stroke-width="0.9"/>
<path d="M659.6,252.9 C659.6,244.4 662.8000000000001,243.4 667.6,243.4 C672.4,243.4 675.6,244.4 675.6,252.9 Z" fill="#4a4a4a" stroke="#fff" stroke-width="0.9"/>
<line x1="39.4" y1="310" x2="39.4" y2="458.2" stroke="#9a9a9a" stroke-width="1"/>
<line x1="39.4" y1="458.2" x2="366.4" y2="458.2" stroke="#9a9a9a" stroke-width="1"/>
<text x="37.5" y="321.2" text-anchor="end" style='font-family:"Liberation Sans",sans-serif;font-size:10.8px;fill:#1a1a1a'>0.4</text>
<text x="37.5" y="352.1" text-anchor="end" style='font-family:"Liberation Sans",sans-serif;font-size:10.8px;fill:#1a1a1a'>0.3</text>
<text x="37.5" y="383.0" text-anchor="end" style='font-family:"Liberation Sans",sans-serif;font-size:10.8px;fill:#1a1a1a'>0.2</text>
<text x="37.5" y="413.8" text-anchor="end" style='font-family:"Liberation Sans",sans-serif;font-size:10.8px;fill:#1a1a1a'>0.1</text>
<text x="37.5" y="445.2" text-anchor="end" style='font-family:"Liberation Sans",sans-serif;font-size:10.8px;fill:#1a1a1a'>0.0</text>
<text x="52.9" y="469.2" text-anchor="middle" style='font-family:"Liberation Sans",sans-serif;font-size:10.8px;fill:#1a1a1a'>0</text>
<text x="131.9" y="469.2" text-anchor="middle" style='font-family:"Liberation Sans",sans-serif;font-size:10.8px;fill:#1a1a1a'>50</text>
<text x="211.1" y="469.2" text-anchor="middle" style='font-family:"Liberation Sans",sans-serif;font-size:10.8px;fill:#1a1a1a'>100</text>
<text x="290.1" y="469.2" text-anchor="middle" style='font-family:"Liberation Sans",sans-serif;font-size:10.8px;fill:#1a1a1a'>150</text>
<text x="203.5" y="480.3" text-anchor="middle" style='font-family:"Liberation Sans",sans-serif;font-size:10.8px;fill:#222'>Time (TR)</text>
<text transform="translate(22,384) rotate(-90)" text-anchor="middle" style='font-family:"Liberation Sans",sans-serif;font-size:10.8px;fill:#222'>Update Probability</text>
<text x="203.2" y="306.1" text-anchor="middle" style='font-family:"Liberation Sans",sans-serif;font-size:11.6px;fill:#111'>Smoothed Belief Updates</text>
<path d="M54.80,451.30 C56.53,442.53 58.27,432.98 60.00,425.00 C61.33,418.86 62.67,411.79 64.00,408.00 C65.53,403.64 67.07,398.30 68.60,398.30 C71.63,398.30 74.67,414.74 77.70,418.40 C80.93,422.30 84.17,423.35 87.40,426.40 C89.00,427.91 90.60,431.50 92.20,431.50 C96.20,431.50 100.20,425.06 104.20,418.40 C106.47,414.63 108.73,398.30 111.00,398.30 C112.50,398.30 114.00,401.25 115.50,403.90 C116.93,406.43 118.37,416.80 119.80,416.80 C122.90,416.80 126.00,391.90 129.10,391.90 C131.53,391.90 133.97,420.59 136.40,426.40 C138.00,430.22 139.60,434.40 141.20,434.40 C143.80,434.40 146.40,427.70 149.00,427.70 C151.40,427.70 153.80,434.47 156.20,436.00 C158.63,437.55 161.07,439.20 163.50,439.20 C166.43,439.20 169.37,427.70 172.30,427.70 C175.23,427.70 178.17,433.60 181.10,433.60 C184.33,433.60 187.57,428.50 190.80,428.50 C192.67,428.50 194.53,435.20 196.40,435.20 C201.73,435.20 207.07,419.20 212.40,419.20 C215.10,419.20 217.80,424.07 220.50,428.00 C222.63,431.11 224.77,441.60 226.90,441.60 C229.03,441.60 231.17,434.38 233.30,432.80 C236.00,430.80 238.70,430.88 241.40,428.80 C244.33,426.54 247.27,412.70 250.20,412.70 C251.80,412.70 253.40,412.80 255.00,413.00 C256.53,413.19 258.07,420.09 259.60,423.20 C263.10,430.30 266.60,442.40 270.10,442.40 C274.63,442.40 279.17,430.40 283.70,430.40 C286.67,430.40 289.63,436.80 292.60,436.80 C295.00,436.80 297.40,418.89 299.80,413.50 C301.30,410.13 302.80,405.50 304.30,405.50 C306.00,405.50 307.70,409.74 309.40,413.50 C311.00,417.04 312.60,427.18 314.20,431.20 C316.37,436.65 318.53,443.30 320.70,443.30 C323.90,443.30 327.10,428.30 330.30,424.80 C332.17,422.76 334.03,420.30 335.90,420.30 C337.50,420.30 339.10,421.60 340.70,421.60 C342.60,421.60 344.50,419.60 346.40,419.60 C348.27,419.60 350.13,420.40 352.00,420.80" fill="none" stroke="#62c6d9" stroke-width="1.4" stroke-linejoin="round"/>
<path d="M54.80,393.50 C57.10,390.80 59.40,385.40 61.70,385.40 C64.10,385.40 66.50,394.30 68.90,394.30 C71.83,394.30 74.77,389.50 77.70,389.50 C80.93,389.50 84.17,406.30 87.40,406.30 C89.27,406.30 91.13,402.82 93.00,399.10 C93.97,397.17 94.93,388.70 95.90,388.70 C97.60,388.70 99.30,404.70 101.00,404.70 C102.33,404.70 103.67,403.55 105.00,401.50 C105.80,400.27 106.60,391.67 107.40,384.60 C108.23,377.24 109.07,359.34 109.90,354.80 C111.40,346.63 112.90,340.00 114.40,340.00 C115.60,340.00 116.80,350.25 118.00,360.00 C119.03,368.40 120.07,399.71 121.10,405.00 C121.90,409.09 122.70,412.70 123.50,412.70 C125.00,412.70 126.50,390.78 128.00,385.00 C129.87,377.80 131.73,369.60 133.60,369.60 C135.07,369.60 136.53,378.56 138.00,385.00 C139.60,392.02 141.20,412.06 142.80,413.50 C145.20,415.67 147.60,416.34 150.00,416.80 C150.73,416.94 151.47,417.10 152.20,417.10 C154.37,417.10 156.53,410.70 158.70,410.70 C160.83,410.70 162.97,414.30 165.10,414.30 C167.50,414.30 169.90,396.75 172.30,392.70 C174.97,388.20 177.63,383.40 180.30,383.40 C182.47,383.40 184.63,396.52 186.80,403.10 C189.73,412.01 192.67,429.90 195.60,429.90 C199.87,429.90 204.13,411.60 208.40,411.60 C210.03,411.60 211.67,416.40 213.30,416.40 C216.50,416.40 219.70,410.70 222.90,410.70 C224.23,410.70 225.57,412.70 226.90,412.70 C229.83,412.70 232.77,403.10 235.70,403.10 C237.60,403.10 239.50,412.40 241.40,412.40 C244.87,412.40 248.33,384.60 251.80,384.60 C254.40,384.60 257.00,389.89 259.60,392.70 C261.50,394.75 263.40,395.89 265.30,399.10 C267.17,402.25 269.03,418.00 270.90,418.00 C272.23,418.00 273.57,415.91 274.90,413.50 C276.23,411.09 277.57,397.29 278.90,395.10 C280.23,392.91 281.57,391.10 282.90,391.10 C284.23,391.10 285.57,395.48 286.90,399.10 C289.07,404.99 291.23,429.60 293.40,429.60 C296.60,429.60 299.80,422.40 303.00,422.40 C304.33,422.40 305.67,425.60 307.00,425.60 C308.07,425.60 309.13,422.68 310.20,420.80 C313.70,414.62 317.20,402.62 320.70,395.90 C322.57,392.32 324.43,386.60 326.30,386.60 C328.17,386.60 330.03,386.60 331.90,386.60 C332.97,386.60 334.03,390.30 335.10,390.30 C336.43,390.30 337.77,380.12 339.10,376.60 C339.90,374.49 340.70,371.30 341.50,371.30 C342.57,371.30 343.63,374.04 344.70,376.60 C346.07,379.88 347.43,387.70 348.80,395.90 C349.87,402.30 350.93,413.03 352.00,421.60" fill="none" stroke="#ec3b83" stroke-width="1.4" stroke-linejoin="round"/>
<path d="M54.80,426.70 C56.30,423.40 57.80,421.83 59.30,416.80 C60.90,411.43 62.50,394.69 64.10,382.00 C66.07,366.41 68.03,337.78 70.00,330.00 C71.67,323.41 73.33,317.00 75.00,317.00 C76.33,317.00 77.67,320.91 79.00,325.00 C81.27,331.95 83.53,365.25 85.80,382.00 C86.53,387.42 87.27,395.36 88.00,397.00 C88.87,398.94 89.73,400.40 90.60,400.40 C91.40,400.40 92.20,400.19 93.00,399.90 C94.17,399.48 95.33,393.50 96.50,393.50 C97.73,393.50 98.97,395.90 100.20,395.90 C102.07,395.90 103.93,393.78 105.80,391.00 C107.57,388.37 109.33,365.70 111.10,365.70 C112.57,365.70 114.03,373.44 115.50,380.00 C117.10,387.16 118.70,413.63 120.30,415.10 C121.10,415.84 121.90,416.40 122.70,416.40 C125.13,416.40 127.57,406.30 130.00,406.30 C131.57,406.30 133.13,410.05 134.70,413.50 C136.33,417.09 137.97,429.55 139.60,432.80 C141.20,435.98 142.80,439.20 144.40,439.20 C146.27,439.20 148.13,437.96 150.00,435.20 C150.47,434.51 150.93,428.40 151.40,428.00 C153.53,426.17 155.67,425.60 157.80,425.60 C158.90,425.60 160.00,427.70 161.10,427.70 C162.43,427.70 163.77,413.86 165.10,407.10 C167.23,396.28 169.37,375.20 171.50,375.20 C172.83,375.20 174.17,390.02 175.50,395.90 C177.37,404.13 179.23,417.10 181.10,417.10 C182.87,417.10 184.63,389.50 186.40,389.50 C187.87,389.50 189.33,395.48 190.80,400.70 C192.67,407.34 194.53,435.70 196.40,435.70 C198.53,435.70 200.67,435.70 202.80,435.70 C204.53,435.70 206.27,410.28 208.00,400.00 C210.30,386.36 212.60,364.40 214.90,364.40 C217.30,364.40 219.70,414.05 222.10,420.00 C224.23,425.29 226.37,428.00 228.50,429.60 C230.63,431.20 232.77,431.21 234.90,432.80 C237.07,434.42 239.23,442.40 241.40,442.40 C244.60,442.40 247.80,392.86 251.00,375.00 C252.53,366.44 254.07,352.90 255.60,352.90 C257.20,352.90 258.80,374.88 260.40,378.20 C262.30,382.14 264.20,382.26 266.10,385.40 C268.77,389.80 271.43,398.63 274.10,405.50 C276.23,411.00 278.37,419.99 280.50,422.40 C283.17,425.42 285.83,428.00 288.50,428.00 C291.20,428.00 293.90,420.81 296.60,418.40 C299.00,416.26 301.40,413.20 303.80,413.20 C305.93,413.20 308.07,416.38 310.20,419.20 C312.33,422.02 314.47,433.60 316.60,433.60 C318.50,433.60 320.40,409.28 322.30,399.10 C324.27,388.57 326.23,370.80 328.20,370.80 C329.17,370.80 330.13,374.68 331.10,378.20 C332.17,382.09 333.23,394.37 334.30,399.10 C335.63,405.02 336.97,412.12 338.30,412.30 C340.43,412.58 342.57,412.45 344.70,412.70 C347.13,412.98 349.57,417.57 352.00,420.00" fill="none" stroke="#6a3d9a" stroke-width="1.4" stroke-linejoin="round"/>
<rect x="97.5" y="310.6" width="71.1" height="27.599999999999966" fill="#fff" stroke="#62c6d9" stroke-width="1.8"/>
<line x1="129.6" y1="310.6" x2="129.6" y2="338.2" stroke="#62c6d9" stroke-width="1.8"/>
<line x1="129.6" y1="338.2" x2="129.6" y2="392" stroke="#62c6d9" stroke-width="1.1" stroke-dasharray="2.5,1.8"/>
<text x="101" y="315.4" style='font-family:"DejaVu Sans","Liberation Sans",sans-serif;fill:#222;font-size:5.0px'>Kid is</text>
<text x="101" y="320.2" style='font-family:"DejaVu Sans","Liberation Sans",sans-serif;fill:#222;font-size:5.0px'>intrigued</text>
<text x="101" y="325.0" style='font-family:"DejaVu Sans","Liberation Sans",sans-serif;fill:#222;font-size:5.0px'>by a box</text>
<text x="101" y="329.8" style='font-family:"DejaVu Sans","Liberation Sans",sans-serif;fill:#222;font-size:5.0px'>while</text>
<text x="101" y="334.6" style='font-family:"DejaVu Sans","Liberation Sans",sans-serif;fill:#222;font-size:5.0px'>unpacking</text>
<text x="132.8" y="320.5" style='font-family:"DejaVu Sans","Liberation Sans",sans-serif;fill:#222;font-size:5.8px'>The box</text>
<text x="132.8" y="326.2" style='font-family:"DejaVu Sans","Liberation Sans",sans-serif;fill:#222;font-size:5.8px'>contains</text>
<text x="132.8" y="331.9" style='font-family:"DejaVu Sans","Liberation Sans",sans-serif;fill:#222;font-size:5.8px'>real bullets</text>
<rect x="180.7" y="312.7" width="77.69999999999999" height="29.69999999999999" fill="#fff" stroke="#6a3d9a" stroke-width="1.8"/>
<line x1="215.3" y1="312.7" x2="215.3" y2="342.4" stroke="#6a3d9a" stroke-width="1.8"/>
<line x1="215.3" y1="342.4" x2="215.3" y2="363" stroke="#6a3d9a" stroke-width="1.1" stroke-dasharray="1.3,1.8"/>
<text x="184.3" y="323.2" style='font-family:"DejaVu Sans","Liberation Sans",sans-serif;fill:#222;font-size:6.0px'>Kid tries</text>
<text x="184.3" y="329.6" style='font-family:"DejaVu Sans","Liberation Sans",sans-serif;fill:#222;font-size:6.0px'>to ride a</text>
<text x="184.3" y="336.0" style='font-family:"DejaVu Sans","Liberation Sans",sans-serif;fill:#222;font-size:6.0px'>toy pony</text>
<text x="219.2" y="323.5" style='font-family:"DejaVu Sans","Liberation Sans",sans-serif;fill:#222;font-size:5.6px'>Storekeeper</text>
<text x="219.2" y="329.3" style='font-family:"DejaVu Sans","Liberation Sans",sans-serif;fill:#222;font-size:5.6px'>comes to</text>
<text x="219.2" y="335.1" style='font-family:"DejaVu Sans","Liberation Sans",sans-serif;fill:#222;font-size:5.6px'>help the kid</text>
<rect x="289.7" y="313.4" width="89.0" height="26.400000000000034" fill="#fff" stroke="#ec3b83" stroke-width="1.8"/>
<line x1="341.2" y1="313.4" x2="341.2" y2="339.8" stroke="#ec3b83" stroke-width="1.8"/>
<line x1="341.2" y1="339.8" x2="341.2" y2="370" stroke="#ec3b83" stroke-width="1.1" stroke-dasharray="2.2,1.8"/>
<text x="294.6" y="320.6" style='font-family:"DejaVu Sans","Liberation Sans",sans-serif;fill:#222;font-size:5.5px'>Family suddenly</text>
<text x="294.6" y="326.0" style='font-family:"DejaVu Sans","Liberation Sans",sans-serif;fill:#222;font-size:5.5px'>appears, father</text>
<text x="294.6" y="331.4" style='font-family:"DejaVu Sans","Liberation Sans",sans-serif;fill:#222;font-size:5.5px'>throws vase</text>
<text x="294.6" y="336.8" style='font-family:"DejaVu Sans","Liberation Sans",sans-serif;fill:#222;font-size:5.5px'>at the kid</text>
<text x="347.2" y="320.3" style='font-family:"DejaVu Sans","Liberation Sans",sans-serif;fill:#222;font-size:5.3px'>Kid shoots</text>
<text x="347.2" y="325.7" style='font-family:"DejaVu Sans","Liberation Sans",sans-serif;fill:#222;font-size:5.3px'>the mirror,</text>
<text x="347.2" y="331.0" style='font-family:"DejaVu Sans","Liberation Sans",sans-serif;fill:#222;font-size:5.3px'>misses the</text>
<text x="347.2" y="336.4" style='font-family:"DejaVu Sans","Liberation Sans",sans-serif;fill:#222;font-size:5.3px'>maid</text>
<text x="373" y="374" style='font-family:"Liberation Sans",sans-serif;font-size:8.4px;fill:#222;font-size:8.8px'>Domain</text>
<line x1="373.4" y1="382.6" x2="378.2" y2="382.6" stroke="#6a3d9a" stroke-width="1.4"/>
<text x="383.3" y="385.5" style='font-family:"Liberation Sans",sans-serif;font-size:8.4px;fill:#222'>States</text>
<line x1="373.4" y1="390.7" x2="378.2" y2="390.7" stroke="#62c6d9" stroke-width="1.4"/>
<text x="383.3" y="393.6" style='font-family:"Liberation Sans",sans-serif;font-size:8.4px;fill:#222'>Agents</text>
<line x1="373.4" y1="398.8" x2="378.2" y2="398.8" stroke="#ec3b83" stroke-width="1.4"/>
<text x="383.3" y="401.7" style='font-family:"Liberation Sans",sans-serif;font-size:8.4px;fill:#222'>Actions</text>
<line x1="472" y1="310.5" x2="472" y2="458.3" stroke="#9a9a9a" stroke-width="1"/>
<line x1="472" y1="458.3" x2="683.6" y2="458.3" stroke="#9a9a9a" stroke-width="1"/>
<text x="470.3" y="317.8" text-anchor="end" style='font-family:"Liberation Sans",sans-serif;font-size:10.8px;fill:#1a1a1a'>1.0</text>
<text x="470.3" y="353.3" text-anchor="end" style='font-family:"Liberation Sans",sans-serif;font-size:10.8px;fill:#1a1a1a'>0.8</text>
<text x="470.3" y="388.7" text-anchor="end" style='font-family:"Liberation Sans",sans-serif;font-size:10.8px;fill:#1a1a1a'>0.6</text>
<text x="470.3" y="424.2" text-anchor="end" style='font-family:"Liberation Sans",sans-serif;font-size:10.8px;fill:#1a1a1a'>0.4</text>
<text x="470.3" y="459.6" text-anchor="end" style='font-family:"Liberation Sans",sans-serif;font-size:10.8px;fill:#1a1a1a'>0.2</text>
<text x="511.5" y="469.3" text-anchor="middle" style='font-family:"Liberation Sans",sans-serif;font-size:10.8px;fill:#1a1a1a;font-size:10.3px'>Actions</text>
<text x="577.6" y="469.5" text-anchor="middle" style='font-family:"Liberation Sans",sans-serif;font-size:10.8px;fill:#1a1a1a;font-size:10.3px'>Agents</text>
<text x="577.2" y="479.8" text-anchor="middle" style='font-family:"Liberation Sans",sans-serif;font-size:10.8px;fill:#1a1a1a;font-size:10.3px'>Condition</text>
<text x="643" y="469.6" text-anchor="middle" style='font-family:"Liberation Sans",sans-serif;font-size:10.8px;fill:#1a1a1a;font-size:10.3px'>States</text>
<text transform="translate(453.8,384.5) rotate(-90)" text-anchor="middle" style='font-family:"Liberation Sans",sans-serif;font-size:10.7px;fill:#222'>Correlation</text>
<text x="577.5" y="305.7" text-anchor="middle" style='font-family:"Liberation Sans",sans-serif;font-size:11.6px;fill:#111'>Inter-rater consistency</text>
<path d="M511.7,332.7 C511.5,333.0 511.0,333.6 510.5,334.5 C510.0,335.4 509.5,336.6 508.9,338.0 C508.3,339.4 507.6,341.2 506.7,343.0 C505.8,344.8 504.6,347.0 503.7,349.0 C502.8,351.0 501.9,353.2 501.4,355.0 C500.9,356.8 500.8,358.3 500.8,360.0 C500.9,361.7 501.1,363.3 501.7,365.0 C502.2,366.7 503.2,368.2 504.1,370.0 C505.0,371.8 506.3,374.0 507.1,376.0 C507.9,378.0 508.4,380.0 508.9,382.0 C509.4,384.0 509.8,386.0 510.1,388.0 C510.4,390.0 510.5,392.2 510.7,394.0 C510.9,395.8 511.2,397.8 511.3,398.5 L512.1,398.5 C512.2,397.8 512.5,395.8 512.7,394.0 C512.9,392.2 513.0,390.0 513.3,388.0 C513.6,386.0 514.0,384.0 514.5,382.0 C515.0,380.0 515.5,378.0 516.3,376.0 C517.1,374.0 518.4,371.8 519.3,370.0 C520.2,368.2 521.2,366.7 521.7,365.0 C522.2,363.3 522.6,361.7 522.6,360.0 C522.6,358.3 522.5,356.8 522.0,355.0 C521.5,353.2 520.6,351.0 519.7,349.0 C518.8,347.0 517.6,344.8 516.7,343.0 C515.8,341.2 515.1,339.4 514.5,338.0 C513.9,336.6 513.4,335.4 512.9,334.5 C512.4,333.6 511.9,333.0 511.7,332.7 Z" fill="#e8327e"/>
<path d="M577.8,331.5 C577.7,331.9 577.3,332.9 577.0,334.0 C576.7,335.1 576.6,336.2 576.2,338.0 C575.7,339.8 575.0,342.7 574.3,345.0 C573.6,347.3 572.8,349.5 572.2,352.0 C571.6,354.5 571.0,357.3 570.6,360.0 C570.1,362.7 569.7,365.5 569.5,368.0 C569.3,370.5 569.2,373.0 569.4,375.0 C569.5,377.0 569.8,378.2 570.4,380.0 C571.0,381.8 572.1,384.0 572.8,386.0 C573.5,388.0 574.3,389.7 574.8,392.0 C575.3,394.3 575.7,397.0 576.0,400.0 C576.3,403.0 576.4,405.8 576.6,410.0 C576.8,414.2 576.9,419.6 577.0,425.0 C577.1,430.4 577.4,439.5 577.5,442.4 L578.1,442.4 C578.2,439.5 578.4,430.4 578.6,425.0 C578.7,419.6 578.8,414.2 579.0,410.0 C579.2,405.8 579.3,403.0 579.6,400.0 C579.9,397.0 580.3,394.3 580.8,392.0 C581.3,389.7 582.1,388.0 582.8,386.0 C583.5,384.0 584.6,381.8 585.2,380.0 C585.8,378.2 586.0,377.0 586.2,375.0 C586.3,373.0 586.3,370.5 586.1,368.0 C585.9,365.5 585.5,362.7 585.0,360.0 C584.5,357.3 584.0,354.5 583.4,352.0 C582.8,349.5 582.0,347.3 581.3,345.0 C580.6,342.7 579.9,339.8 579.4,338.0 C578.9,336.2 578.9,335.1 578.6,334.0 C578.3,332.9 577.9,331.9 577.8,331.5 Z" fill="#5ec6da"/>
<path d="M643.3,319.3 C643.0,319.5 642.4,320.1 641.8,320.5 C641.2,320.9 640.5,321.4 639.7,322.0 C638.9,322.6 637.9,323.2 636.8,323.8 C635.7,324.4 634.6,324.9 633.3,325.5 C632.0,326.1 630.4,326.7 628.8,327.3 C627.2,327.9 625.5,328.6 623.8,329.2 C622.1,329.8 620.5,330.5 618.8,331.2 C617.1,331.9 614.0,332.8 613.8,333.4 C613.6,334.0 616.2,334.2 617.8,334.6 C619.4,335.0 621.5,335.5 623.3,336.0 C625.1,336.5 627.0,336.9 628.8,337.4 C630.5,337.9 632.3,338.3 633.8,338.8 C635.3,339.3 636.7,339.8 637.8,340.3 C638.9,340.8 639.8,341.2 640.3,341.6 C640.8,342.0 640.9,342.2 640.9,342.6 C640.9,343.0 640.1,343.4 640.1,344.0 C640.0,344.6 640.3,345.3 640.6,346.0 C640.9,346.7 641.5,347.5 641.9,348.2 C642.3,348.9 642.9,349.7 643.1,350.0 L643.5,350.0 C643.7,349.7 644.3,348.9 644.7,348.2 C645.1,347.5 645.7,346.7 646.0,346.0 C646.3,345.3 646.5,344.6 646.5,344.0 C646.5,343.4 645.7,343.0 645.7,342.6 C645.7,342.2 645.8,342.0 646.3,341.6 C646.8,341.2 647.7,340.8 648.8,340.3 C649.9,339.8 651.3,339.3 652.8,338.8 C654.3,338.3 656.0,337.9 657.8,337.4 C659.5,336.9 661.5,336.5 663.3,336.0 C665.1,335.5 667.2,335.0 668.8,334.6 C670.4,334.2 673.0,334.0 672.8,333.4 C672.6,332.8 669.5,331.9 667.8,331.2 C666.1,330.5 664.5,329.8 662.8,329.2 C661.1,328.6 659.4,327.9 657.8,327.3 C656.2,326.7 654.6,326.1 653.3,325.5 C652.0,324.9 650.9,324.4 649.8,323.8 C648.7,323.2 647.7,322.6 646.9,322.0 C646.1,321.4 645.4,320.9 644.8,320.5 C644.2,320.1 643.5,319.5 643.3,319.3 Z" fill="#5a2a87"/>
<rect x="642.8" y="354" width="1" height="6" fill="#5a2a87"/>
<ellipse cx="511.7" cy="363" rx="4.2" ry="24" fill="#fff" opacity="0.14"/>
<ellipse cx="577.8" cy="372" rx="3.4" ry="28" fill="#fff" opacity="0.14"/>
<circle cx="512.1" cy="349.8" r="0.5" fill="#fff" opacity="0.5"/><circle cx="512.7" cy="357.5" r="0.5" fill="#fff" opacity="0.5"/><circle cx="507.5" cy="372.3" r="0.5" fill="#fff" opacity="0.5"/><circle cx="512.8" cy="336.8" r="0.5" fill="#fff" opacity="0.5"/><circle cx="509.1" cy="351.0" r="0.5" fill="#fff" opacity="0.5"/><circle cx="511.7" cy="393.7" r="0.5" fill="#fff" opacity="0.5"/><circle cx="511.6" cy="384.5" r="0.5" fill="#fff" opacity="0.5"/><circle cx="508.5" cy="373.1" r="0.5" fill="#fff" opacity="0.5"/><circle cx="515.1" cy="372.8" r="0.5" fill="#fff" opacity="0.5"/><circle cx="514.0" cy="366.3" r="0.5" fill="#fff" opacity="0.5"/><circle cx="508.3" cy="374.9" r="0.5" fill="#fff" opacity="0.5"/><circle cx="512.2" cy="380.0" r="0.5" fill="#fff" opacity="0.5"/><circle cx="507.2" cy="353.5" r="0.5" fill="#fff" opacity="0.5"/><circle cx="511.6" cy="386.2" r="0.5" fill="#fff" opacity="0.5"/><circle cx="514.0" cy="377.7" r="0.5" fill="#fff" opacity="0.5"/><circle cx="514.3" cy="377.4" r="0.5" fill="#fff" opacity="0.5"/><circle cx="514.6" cy="358.9" r="0.5" fill="#fff" opacity="0.5"/><circle cx="515.9" cy="361.8" r="0.5" fill="#fff" opacity="0.5"/><circle cx="510.6" cy="387.0" r="0.5" fill="#fff" opacity="0.5"/><circle cx="509.4" cy="343.9" r="0.5" fill="#fff" opacity="0.5"/><circle cx="511.6" cy="392.0" r="0.5" fill="#fff" opacity="0.5"/><circle cx="509.8" cy="372.3" r="0.5" fill="#fff" opacity="0.5"/><circle cx="510.6" cy="365.4" r="0.5" fill="#fff" opacity="0.5"/><circle cx="512.5" cy="356.4" r="0.5" fill="#fff" opacity="0.5"/><circle cx="515.6" cy="369.9" r="0.5" fill="#fff" opacity="0.5"/><circle cx="514.8" cy="375.6" r="0.5" fill="#fff" opacity="0.5"/><circle cx="513.2" cy="385.7" r="0.5" fill="#fff" opacity="0.5"/><circle cx="509.1" cy="374.9" r="0.5" fill="#fff" opacity="0.5"/><circle cx="513.1" cy="385.9" r="0.5" fill="#fff" opacity="0.5"/><circle cx="511.9" cy="388.5" r="0.5" fill="#fff" opacity="0.5"/><circle cx="509.9" cy="377.4" r="0.5" fill="#fff" opacity="0.5"/><circle cx="512.0" cy="384.2" r="0.5" fill="#fff" opacity="0.5"/><circle cx="507.5" cy="352.5" r="0.5" fill="#fff" opacity="0.5"/><circle cx="513.2" cy="385.5" r="0.5" fill="#fff" opacity="0.5"/><circle cx="513.6" cy="341.1" r="0.5" fill="#fff" opacity="0.5"/><circle cx="508.3" cy="359.8" r="0.5" fill="#fff" opacity="0.5"/><circle cx="514.3" cy="353.0" r="0.5" fill="#fff" opacity="0.5"/><circle cx="510.4" cy="386.6" r="0.5" fill="#fff" opacity="0.5"/><circle cx="507.3" cy="371.6" r="0.5" fill="#fff" opacity="0.5"/><circle cx="510.7" cy="377.7" r="0.5" fill="#fff" opacity="0.5"/><circle cx="513.0" cy="387.1" r="0.5" fill="#fff" opacity="0.5"/><circle cx="516.5" cy="365.3" r="0.5" fill="#fff" opacity="0.5"/><circle cx="507.6" cy="354.0" r="0.5" fill="#fff" opacity="0.5"/><circle cx="507.2" cy="370.8" r="0.5" fill="#fff" opacity="0.5"/><circle cx="510.8" cy="347.4" r="0.5" fill="#fff" opacity="0.5"/><circle cx="508.4" cy="371.4" r="0.5" fill="#fff" opacity="0.5"/><circle cx="513.4" cy="338.5" r="0.5" fill="#fff" opacity="0.5"/><circle cx="516.1" cy="354.2" r="0.5" fill="#fff" opacity="0.5"/><circle cx="511.4" cy="388.0" r="0.5" fill="#fff" opacity="0.5"/><circle cx="511.9" cy="362.7" r="0.5" fill="#fff" opacity="0.5"/><circle cx="512.6" cy="373.3" r="0.5" fill="#fff" opacity="0.5"/><circle cx="512.9" cy="368.4" r="0.5" fill="#fff" opacity="0.5"/><circle cx="511.7" cy="390.6" r="0.5" fill="#fff" opacity="0.5"/><circle cx="513.8" cy="361.0" r="0.5" fill="#fff" opacity="0.5"/><circle cx="509.8" cy="349.8" r="0.5" fill="#fff" opacity="0.5"/><circle cx="511.7" cy="392.7" r="0.5" fill="#fff" opacity="0.5"/><circle cx="507.0" cy="367.8" r="0.5" fill="#fff" opacity="0.5"/><circle cx="512.5" cy="360.1" r="0.5" fill="#fff" opacity="0.5"/><circle cx="512.1" cy="337.2" r="0.5" fill="#fff" opacity="0.5"/><circle cx="507.6" cy="372.7" r="0.5" fill="#fff" opacity="0.5"/><circle cx="511.4" cy="372.4" r="0.5" fill="#fff" opacity="0.5"/><circle cx="510.6" cy="375.4" r="0.5" fill="#fff" opacity="0.5"/><circle cx="513.2" cy="377.0" r="0.5" fill="#fff" opacity="0.5"/><circle cx="510.1" cy="337.3" r="0.5" fill="#fff" opacity="0.5"/><circle cx="515.2" cy="375.2" r="0.5" fill="#fff" opacity="0.5"/><circle cx="511.3" cy="350.6" r="0.5" fill="#fff" opacity="0.5"/><circle cx="510.0" cy="370.4" r="0.5" fill="#fff" opacity="0.5"/><circle cx="509.9" cy="357.1" r="0.5" fill="#fff" opacity="0.5"/><circle cx="512.6" cy="357.4" r="0.5" fill="#fff" opacity="0.5"/><circle cx="510.5" cy="353.4" r="0.5" fill="#fff" opacity="0.5"/><circle cx="509.5" cy="380.8" r="0.5" fill="#fff" opacity="0.5"/><circle cx="514.0" cy="369.0" r="0.5" fill="#fff" opacity="0.5"/><circle cx="509.0" cy="354.0" r="0.5" fill="#fff" opacity="0.5"/><circle cx="510.7" cy="382.6" r="0.5" fill="#fff" opacity="0.5"/><circle cx="511.1" cy="346.9" r="0.5" fill="#fff" opacity="0.5"/><circle cx="509.0" cy="376.5" r="0.5" fill="#fff" opacity="0.5"/><circle cx="510.1" cy="354.7" r="0.5" fill="#fff" opacity="0.5"/><circle cx="511.5" cy="384.3" r="0.5" fill="#fff" opacity="0.5"/><circle cx="510.7" cy="385.6" r="0.5" fill="#fff" opacity="0.5"/><circle cx="513.1" cy="355.5" r="0.5" fill="#fff" opacity="0.5"/><circle cx="511.6" cy="387.3" r="0.5" fill="#fff" opacity="0.5"/><circle cx="508.1" cy="349.1" r="0.5" fill="#fff" opacity="0.5"/><circle cx="508.7" cy="366.7" r="0.5" fill="#fff" opacity="0.5"/><circle cx="513.0" cy="382.8" r="0.5" fill="#fff" opacity="0.5"/><circle cx="509.6" cy="346.6" r="0.5" fill="#fff" opacity="0.5"/><circle cx="512.3" cy="382.8" r="0.5" fill="#fff" opacity="0.5"/><circle cx="511.1" cy="382.8" r="0.5" fill="#fff" opacity="0.5"/><circle cx="510.1" cy="343.5" r="0.5" fill="#fff" opacity="0.5"/><circle cx="510.7" cy="382.0" r="0.5" fill="#fff" opacity="0.5"/><circle cx="510.9" cy="356.1" r="0.5" fill="#fff" opacity="0.5"/><circle cx="510.8" cy="360.3" r="0.5" fill="#fff" opacity="0.5"/><circle cx="510.9" cy="389.4" r="0.5" fill="#fff" opacity="0.5"/><circle cx="513.0" cy="336.3" r="0.5" fill="#fff" opacity="0.5"/><circle cx="513.0" cy="387.0" r="0.5" fill="#fff" opacity="0.5"/><circle cx="516.0" cy="361.2" r="0.5" fill="#fff" opacity="0.5"/><circle cx="511.1" cy="389.8" r="0.5" fill="#fff" opacity="0.5"/><circle cx="513.5" cy="379.2" r="0.5" fill="#fff" opacity="0.5"/><circle cx="511.9" cy="374.5" r="0.5" fill="#fff" opacity="0.5"/><circle cx="510.2" cy="352.8" r="0.5" fill="#fff" opacity="0.5"/><circle cx="507.6" cy="349.2" r="0.5" fill="#fff" opacity="0.5"/><circle cx="509.7" cy="370.1" r="0.5" fill="#fff" opacity="0.5"/><circle cx="509.9" cy="383.0" r="0.5" fill="#fff" opacity="0.5"/><circle cx="512.2" cy="388.4" r="0.5" fill="#fff" opacity="0.5"/><circle cx="512.6" cy="389.6" r="0.5" fill="#fff" opacity="0.5"/><circle cx="511.9" cy="388.2" r="0.5" fill="#fff" opacity="0.5"/><circle cx="512.5" cy="336.8" r="0.5" fill="#fff" opacity="0.5"/><circle cx="509.8" cy="346.0" r="0.5" fill="#fff" opacity="0.5"/><circle cx="511.9" cy="374.4" r="0.5" fill="#fff" opacity="0.5"/><circle cx="515.9" cy="360.0" r="0.5" fill="#fff" opacity="0.5"/><circle cx="510.2" cy="371.5" r="0.5" fill="#fff" opacity="0.5"/><circle cx="515.2" cy="350.6" r="0.5" fill="#fff" opacity="0.5"/><circle cx="514.4" cy="363.7" r="0.5" fill="#fff" opacity="0.5"/><circle cx="508.8" cy="356.4" r="0.5" fill="#fff" opacity="0.5"/><circle cx="514.7" cy="367.0" r="0.5" fill="#fff" opacity="0.5"/><circle cx="514.5" cy="345.9" r="0.5" fill="#fff" opacity="0.5"/><circle cx="512.4" cy="389.5" r="0.5" fill="#fff" opacity="0.5"/><circle cx="509.9" cy="383.8" r="0.5" fill="#fff" opacity="0.5"/><circle cx="515.2" cy="372.5" r="0.5" fill="#fff" opacity="0.5"/><circle cx="510.6" cy="338.9" r="0.5" fill="#fff" opacity="0.5"/><circle cx="512.0" cy="351.6" r="0.5" fill="#fff" opacity="0.5"/><circle cx="511.4" cy="360.5" r="0.5" fill="#fff" opacity="0.5"/><circle cx="509.4" cy="381.0" r="0.5" fill="#fff" opacity="0.5"/><circle cx="509.8" cy="339.2" r="0.5" fill="#fff" opacity="0.5"/><circle cx="508.4" cy="343.2" r="0.5" fill="#fff" opacity="0.5"/><circle cx="512.3" cy="392.5" r="0.5" fill="#fff" opacity="0.5"/><circle cx="511.7" cy="341.0" r="0.5" fill="#fff" opacity="0.5"/><circle cx="509.9" cy="354.3" r="0.5" fill="#fff" opacity="0.5"/><circle cx="513.1" cy="356.4" r="0.5" fill="#fff" opacity="0.5"/><circle cx="510.4" cy="370.0" r="0.5" fill="#fff" opacity="0.5"/><circle cx="510.1" cy="347.1" r="0.5" fill="#fff" opacity="0.5"/><circle cx="512.1" cy="343.2" r="0.5" fill="#fff" opacity="0.5"/><circle cx="511.0" cy="377.5" r="0.5" fill="#fff" opacity="0.5"/><circle cx="509.8" cy="340.6" r="0.5" fill="#fff" opacity="0.5"/><circle cx="512.7" cy="357.6" r="0.5" fill="#fff" opacity="0.5"/><circle cx="511.2" cy="381.4" r="0.5" fill="#fff" opacity="0.5"/><circle cx="512.2" cy="382.5" r="0.5" fill="#fff" opacity="0.5"/><circle cx="510.5" cy="361.0" r="0.5" fill="#fff" opacity="0.5"/><circle cx="513.6" cy="364.8" r="0.5" fill="#fff" opacity="0.5"/><circle cx="513.6" cy="360.4" r="0.5" fill="#fff" opacity="0.5"/><circle cx="509.3" cy="362.7" r="0.5" fill="#fff" opacity="0.5"/><circle cx="513.6" cy="367.1" r="0.5" fill="#fff" opacity="0.5"/><circle cx="511.3" cy="340.2" r="0.5" fill="#fff" opacity="0.5"/><circle cx="515.3" cy="360.7" r="0.5" fill="#fff" opacity="0.5"/><circle cx="511.4" cy="390.3" r="0.5" fill="#fff" opacity="0.5"/><circle cx="512.4" cy="388.1" r="0.5" fill="#fff" opacity="0.5"/><circle cx="511.4" cy="351.2" r="0.5" fill="#fff" opacity="0.5"/><circle cx="514.1" cy="343.1" r="0.5" fill="#fff" opacity="0.5"/><circle cx="514.8" cy="374.4" r="0.5" fill="#fff" opacity="0.5"/><circle cx="512.4" cy="382.0" r="0.5" fill="#fff" opacity="0.5"/><circle cx="512.1" cy="378.6" r="0.5" fill="#fff" opacity="0.5"/><circle cx="512.3" cy="342.0" r="0.5" fill="#fff" opacity="0.5"/><circle cx="510.6" cy="336.3" r="0.5" fill="#fff" opacity="0.5"/><circle cx="509.6" cy="380.9" r="0.5" fill="#fff" opacity="0.5"/><circle cx="509.1" cy="341.3" r="0.5" fill="#fff" opacity="0.5"/><circle cx="510.8" cy="387.1" r="0.5" fill="#fff" opacity="0.5"/><circle cx="513.0" cy="337.4" r="0.5" fill="#fff" opacity="0.5"/><circle cx="514.3" cy="343.0" r="0.5" fill="#fff" opacity="0.5"/><circle cx="514.3" cy="375.1" r="0.5" fill="#fff" opacity="0.5"/><circle cx="511.9" cy="391.2" r="0.5" fill="#fff" opacity="0.5"/><circle cx="509.8" cy="382.3" r="0.5" fill="#fff" opacity="0.5"/><circle cx="511.8" cy="380.5" r="0.5" fill="#fff" opacity="0.5"/><circle cx="509.2" cy="377.5" r="0.5" fill="#fff" opacity="0.5"/><circle cx="514.0" cy="379.4" r="0.5" fill="#fff" opacity="0.5"/><circle cx="510.8" cy="339.5" r="0.5" fill="#fff" opacity="0.5"/><circle cx="514.8" cy="368.7" r="0.5" fill="#fff" opacity="0.5"/><circle cx="508.6" cy="350.0" r="0.5" fill="#fff" opacity="0.5"/><circle cx="512.8" cy="350.5" r="0.5" fill="#fff" opacity="0.5"/><circle cx="511.1" cy="379.7" r="0.5" fill="#fff" opacity="0.5"/><circle cx="510.7" cy="357.3" r="0.5" fill="#fff" opacity="0.5"/><circle cx="510.9" cy="356.3" r="0.5" fill="#fff" opacity="0.5"/><circle cx="511.7" cy="340.8" r="0.5" fill="#fff" opacity="0.5"/><circle cx="511.5" cy="392.4" r="0.5" fill="#fff" opacity="0.5"/><circle cx="509.9" cy="379.3" r="0.5" fill="#fff" opacity="0.5"/><circle cx="513.5" cy="376.1" r="0.5" fill="#fff" opacity="0.5"/><circle cx="511.8" cy="375.1" r="0.5" fill="#fff" opacity="0.5"/><circle cx="513.1" cy="364.1" r="0.5" fill="#fff" opacity="0.5"/><circle cx="510.9" cy="388.0" r="0.5" fill="#fff" opacity="0.5"/><circle cx="513.3" cy="341.6" r="0.5" fill="#fff" opacity="0.5"/><circle cx="511.7" cy="389.2" r="0.5" fill="#fff" opacity="0.5"/><circle cx="513.8" cy="361.7" r="0.5" fill="#fff" opacity="0.5"/><circle cx="509.5" cy="346.8" r="0.5" fill="#fff" opacity="0.5"/><circle cx="512.5" cy="347.6" r="0.5" fill="#fff" opacity="0.5"/><circle cx="509.1" cy="354.3" r="0.5" fill="#fff" opacity="0.5"/><circle cx="514.8" cy="376.1" r="0.5" fill="#fff" opacity="0.5"/><circle cx="513.7" cy="353.2" r="0.5" fill="#fff" opacity="0.5"/><circle cx="515.1" cy="360.0" r="0.5" fill="#fff" opacity="0.5"/><circle cx="509.5" cy="369.9" r="0.5" fill="#fff" opacity="0.5"/><circle cx="507.1" cy="348.6" r="0.5" fill="#fff" opacity="0.5"/><circle cx="510.6" cy="363.8" r="0.5" fill="#fff" opacity="0.5"/><circle cx="510.4" cy="346.0" r="0.5" fill="#fff" opacity="0.5"/><circle cx="514.3" cy="354.7" r="0.5" fill="#fff" opacity="0.5"/><circle cx="515.9" cy="344.3" r="0.5" fill="#fff" opacity="0.5"/><circle cx="512.7" cy="363.8" r="0.5" fill="#fff" opacity="0.5"/><circle cx="514.9" cy="363.1" r="0.5" fill="#fff" opacity="0.5"/><circle cx="511.9" cy="383.7" r="0.5" fill="#fff" opacity="0.5"/><circle cx="513.8" cy="363.9" r="0.5" fill="#fff" opacity="0.5"/><circle cx="511.4" cy="385.7" r="0.5" fill="#fff" opacity="0.5"/><circle cx="514.3" cy="378.5" r="0.5" fill="#fff" opacity="0.5"/><circle cx="509.1" cy="363.1" r="0.5" fill="#fff" opacity="0.5"/><circle cx="513.8" cy="349.6" r="0.5" fill="#fff" opacity="0.5"/>
<circle cx="581.2" cy="386.0" r="0.5" fill="#fff" opacity="0.5"/><circle cx="577.1" cy="399.2" r="0.5" fill="#fff" opacity="0.5"/><circle cx="576.0" cy="350.0" r="0.5" fill="#fff" opacity="0.5"/><circle cx="579.3" cy="349.9" r="0.5" fill="#fff" opacity="0.5"/><circle cx="578.9" cy="399.5" r="0.5" fill="#fff" opacity="0.5"/><circle cx="580.7" cy="354.9" r="0.5" fill="#fff" opacity="0.5"/><circle cx="577.2" cy="359.2" r="0.5" fill="#fff" opacity="0.5"/><circle cx="575.5" cy="389.9" r="0.5" fill="#fff" opacity="0.5"/><circle cx="579.3" cy="342.9" r="0.5" fill="#fff" opacity="0.5"/><circle cx="576.7" cy="357.6" r="0.5" fill="#fff" opacity="0.5"/><circle cx="579.2" cy="378.9" r="0.5" fill="#fff" opacity="0.5"/><circle cx="577.5" cy="336.5" r="0.5" fill="#fff" opacity="0.5"/><circle cx="577.7" cy="368.3" r="0.5" fill="#fff" opacity="0.5"/><circle cx="578.5" cy="351.5" r="0.5" fill="#fff" opacity="0.5"/><circle cx="577.6" cy="406.7" r="0.5" fill="#fff" opacity="0.5"/><circle cx="574.8" cy="376.3" r="0.5" fill="#fff" opacity="0.5"/><circle cx="579.1" cy="356.3" r="0.5" fill="#fff" opacity="0.5"/><circle cx="579.7" cy="344.3" r="0.5" fill="#fff" opacity="0.5"/><circle cx="576.8" cy="403.2" r="0.5" fill="#fff" opacity="0.5"/><circle cx="577.5" cy="405.7" r="0.5" fill="#fff" opacity="0.5"/><circle cx="578.9" cy="393.2" r="0.5" fill="#fff" opacity="0.5"/><circle cx="579.2" cy="357.9" r="0.5" fill="#fff" opacity="0.5"/><circle cx="580.2" cy="384.4" r="0.5" fill="#fff" opacity="0.5"/><circle cx="579.8" cy="355.7" r="0.5" fill="#fff" opacity="0.5"/><circle cx="578.2" cy="407.1" r="0.5" fill="#fff" opacity="0.5"/><circle cx="574.7" cy="375.7" r="0.5" fill="#fff" opacity="0.5"/><circle cx="576.6" cy="372.5" r="0.5" fill="#fff" opacity="0.5"/><circle cx="578.9" cy="389.1" r="0.5" fill="#fff" opacity="0.5"/><circle cx="575.3" cy="377.9" r="0.5" fill="#fff" opacity="0.5"/><circle cx="578.8" cy="383.8" r="0.5" fill="#fff" opacity="0.5"/><circle cx="580.6" cy="349.3" r="0.5" fill="#fff" opacity="0.5"/><circle cx="574.8" cy="384.5" r="0.5" fill="#fff" opacity="0.5"/><circle cx="577.0" cy="405.0" r="0.5" fill="#fff" opacity="0.5"/><circle cx="579.6" cy="360.5" r="0.5" fill="#fff" opacity="0.5"/><circle cx="578.2" cy="380.2" r="0.5" fill="#fff" opacity="0.5"/><circle cx="577.5" cy="383.9" r="0.5" fill="#fff" opacity="0.5"/><circle cx="575.2" cy="359.1" r="0.5" fill="#fff" opacity="0.5"/><circle cx="578.6" cy="341.1" r="0.5" fill="#fff" opacity="0.5"/><circle cx="578.0" cy="391.8" r="0.5" fill="#fff" opacity="0.5"/><circle cx="577.1" cy="390.7" r="0.5" fill="#fff" opacity="0.5"/><circle cx="576.9" cy="355.7" r="0.5" fill="#fff" opacity="0.5"/><circle cx="576.6" cy="400.6" r="0.5" fill="#fff" opacity="0.5"/><circle cx="575.8" cy="373.3" r="0.5" fill="#fff" opacity="0.5"/><circle cx="577.2" cy="392.9" r="0.5" fill="#fff" opacity="0.5"/><circle cx="577.0" cy="360.6" r="0.5" fill="#fff" opacity="0.5"/><circle cx="580.0" cy="376.1" r="0.5" fill="#fff" opacity="0.5"/><circle cx="580.6" cy="362.1" r="0.5" fill="#fff" opacity="0.5"/><circle cx="576.7" cy="344.3" r="0.5" fill="#fff" opacity="0.5"/><circle cx="576.0" cy="343.4" r="0.5" fill="#fff" opacity="0.5"/><circle cx="578.7" cy="393.6" r="0.5" fill="#fff" opacity="0.5"/><circle cx="575.5" cy="349.7" r="0.5" fill="#fff" opacity="0.5"/><circle cx="579.7" cy="366.8" r="0.5" fill="#fff" opacity="0.5"/><circle cx="578.7" cy="396.4" r="0.5" fill="#fff" opacity="0.5"/><circle cx="575.0" cy="379.8" r="0.5" fill="#fff" opacity="0.5"/><circle cx="575.3" cy="365.5" r="0.5" fill="#fff" opacity="0.5"/><circle cx="578.3" cy="375.0" r="0.5" fill="#fff" opacity="0.5"/><circle cx="575.8" cy="351.0" r="0.5" fill="#fff" opacity="0.5"/><circle cx="575.9" cy="393.8" r="0.5" fill="#fff" opacity="0.5"/><circle cx="579.3" cy="395.4" r="0.5" fill="#fff" opacity="0.5"/><circle cx="577.6" cy="406.2" r="0.5" fill="#fff" opacity="0.5"/><circle cx="578.5" cy="376.9" r="0.5" fill="#fff" opacity="0.5"/><circle cx="581.6" cy="382.9" r="0.5" fill="#fff" opacity="0.5"/><circle cx="576.4" cy="386.8" r="0.5" fill="#fff" opacity="0.5"/><circle cx="577.8" cy="399.6" r="0.5" fill="#fff" opacity="0.5"/><circle cx="579.6" cy="380.5" r="0.5" fill="#fff" opacity="0.5"/><circle cx="578.3" cy="336.2" r="0.5" fill="#fff" opacity="0.5"/><circle cx="577.7" cy="385.0" r="0.5" fill="#fff" opacity="0.5"/><circle cx="577.5" cy="374.7" r="0.5" fill="#fff" opacity="0.5"/><circle cx="578.0" cy="350.3" r="0.5" fill="#fff" opacity="0.5"/><circle cx="577.8" cy="338.7" r="0.5" fill="#fff" opacity="0.5"/><circle cx="577.4" cy="383.8" r="0.5" fill="#fff" opacity="0.5"/><circle cx="581.5" cy="377.9" r="0.5" fill="#fff" opacity="0.5"/><circle cx="576.9" cy="402.0" r="0.5" fill="#fff" opacity="0.5"/><circle cx="578.3" cy="394.6" r="0.5" fill="#fff" opacity="0.5"/><circle cx="577.4" cy="339.7" r="0.5" fill="#fff" opacity="0.5"/><circle cx="574.4" cy="353.3" r="0.5" fill="#fff" opacity="0.5"/><circle cx="581.2" cy="375.9" r="0.5" fill="#fff" opacity="0.5"/><circle cx="580.8" cy="359.9" r="0.5" fill="#fff" opacity="0.5"/><circle cx="575.3" cy="387.4" r="0.5" fill="#fff" opacity="0.5"/><circle cx="578.1" cy="399.5" r="0.5" fill="#fff" opacity="0.5"/><circle cx="578.3" cy="404.6" r="0.5" fill="#fff" opacity="0.5"/><circle cx="577.0" cy="390.7" r="0.5" fill="#fff" opacity="0.5"/><circle cx="579.4" cy="395.7" r="0.5" fill="#fff" opacity="0.5"/><circle cx="577.6" cy="399.7" r="0.5" fill="#fff" opacity="0.5"/><circle cx="577.7" cy="392.0" r="0.5" fill="#fff" opacity="0.5"/><circle cx="575.6" cy="344.1" r="0.5" fill="#fff" opacity="0.5"/><circle cx="576.6" cy="341.8" r="0.5" fill="#fff" opacity="0.5"/><circle cx="577.8" cy="347.9" r="0.5" fill="#fff" opacity="0.5"/><circle cx="578.0" cy="387.7" r="0.5" fill="#fff" opacity="0.5"/><circle cx="579.0" cy="367.2" r="0.5" fill="#fff" opacity="0.5"/><circle cx="577.5" cy="358.5" r="0.5" fill="#fff" opacity="0.5"/><circle cx="577.4" cy="392.0" r="0.5" fill="#fff" opacity="0.5"/><circle cx="580.7" cy="349.4" r="0.5" fill="#fff" opacity="0.5"/><circle cx="577.0" cy="389.3" r="0.5" fill="#fff" opacity="0.5"/><circle cx="578.0" cy="363.5" r="0.5" fill="#fff" opacity="0.5"/><circle cx="575.6" cy="380.1" r="0.5" fill="#fff" opacity="0.5"/><circle cx="577.3" cy="336.2" r="0.5" fill="#fff" opacity="0.5"/><circle cx="576.4" cy="394.0" r="0.5" fill="#fff" opacity="0.5"/><circle cx="575.4" cy="370.0" r="0.5" fill="#fff" opacity="0.5"/><circle cx="575.2" cy="351.5" r="0.5" fill="#fff" opacity="0.5"/><circle cx="575.1" cy="365.9" r="0.5" fill="#fff" opacity="0.5"/><circle cx="576.9" cy="338.0" r="0.5" fill="#fff" opacity="0.5"/><circle cx="577.7" cy="348.4" r="0.5" fill="#fff" opacity="0.5"/><circle cx="576.2" cy="340.4" r="0.5" fill="#fff" opacity="0.5"/><circle cx="577.1" cy="369.2" r="0.5" fill="#fff" opacity="0.5"/><circle cx="574.9" cy="388.1" r="0.5" fill="#fff" opacity="0.5"/><circle cx="577.0" cy="365.8" r="0.5" fill="#fff" opacity="0.5"/><circle cx="578.9" cy="338.0" r="0.5" fill="#fff" opacity="0.5"/><circle cx="574.6" cy="352.2" r="0.5" fill="#fff" opacity="0.5"/><circle cx="575.1" cy="371.1" r="0.5" fill="#fff" opacity="0.5"/><circle cx="576.6" cy="382.1" r="0.5" fill="#fff" opacity="0.5"/><circle cx="575.4" cy="345.2" r="0.5" fill="#fff" opacity="0.5"/><circle cx="576.5" cy="389.8" r="0.5" fill="#fff" opacity="0.5"/><circle cx="577.7" cy="394.3" r="0.5" fill="#fff" opacity="0.5"/><circle cx="577.4" cy="405.0" r="0.5" fill="#fff" opacity="0.5"/><circle cx="575.9" cy="354.5" r="0.5" fill="#fff" opacity="0.5"/><circle cx="578.3" cy="396.3" r="0.5" fill="#fff" opacity="0.5"/><circle cx="574.5" cy="361.5" r="0.5" fill="#fff" opacity="0.5"/><circle cx="581.2" cy="386.5" r="0.5" fill="#fff" opacity="0.5"/><circle cx="573.8" cy="379.8" r="0.5" fill="#fff" opacity="0.5"/><circle cx="576.8" cy="338.2" r="0.5" fill="#fff" opacity="0.5"/><circle cx="574.6" cy="348.6" r="0.5" fill="#fff" opacity="0.5"/><circle cx="578.3" cy="340.0" r="0.5" fill="#fff" opacity="0.5"/><circle cx="577.1" cy="402.6" r="0.5" fill="#fff" opacity="0.5"/><circle cx="577.8" cy="408.1" r="0.5" fill="#fff" opacity="0.5"/><circle cx="579.4" cy="395.5" r="0.5" fill="#fff" opacity="0.5"/><circle cx="576.8" cy="405.6" r="0.5" fill="#fff" opacity="0.5"/><circle cx="578.7" cy="358.5" r="0.5" fill="#fff" opacity="0.5"/><circle cx="576.9" cy="406.0" r="0.5" fill="#fff" opacity="0.5"/><circle cx="580.6" cy="357.7" r="0.5" fill="#fff" opacity="0.5"/><circle cx="577.2" cy="344.5" r="0.5" fill="#fff" opacity="0.5"/><circle cx="579.2" cy="360.7" r="0.5" fill="#fff" opacity="0.5"/><circle cx="577.1" cy="404.7" r="0.5" fill="#fff" opacity="0.5"/><circle cx="579.0" cy="390.7" r="0.5" fill="#fff" opacity="0.5"/><circle cx="578.0" cy="397.8" r="0.5" fill="#fff" opacity="0.5"/><circle cx="577.5" cy="404.3" r="0.5" fill="#fff" opacity="0.5"/><circle cx="575.6" cy="366.7" r="0.5" fill="#fff" opacity="0.5"/><circle cx="577.7" cy="393.7" r="0.5" fill="#fff" opacity="0.5"/><circle cx="575.2" cy="355.9" r="0.5" fill="#fff" opacity="0.5"/><circle cx="578.4" cy="389.3" r="0.5" fill="#fff" opacity="0.5"/><circle cx="577.1" cy="388.6" r="0.5" fill="#fff" opacity="0.5"/><circle cx="575.0" cy="372.0" r="0.5" fill="#fff" opacity="0.5"/><circle cx="574.8" cy="388.6" r="0.5" fill="#fff" opacity="0.5"/><circle cx="579.9" cy="370.6" r="0.5" fill="#fff" opacity="0.5"/><circle cx="574.8" cy="386.1" r="0.5" fill="#fff" opacity="0.5"/><circle cx="580.5" cy="353.6" r="0.5" fill="#fff" opacity="0.5"/><circle cx="580.8" cy="383.5" r="0.5" fill="#fff" opacity="0.5"/><circle cx="577.7" cy="400.5" r="0.5" fill="#fff" opacity="0.5"/><circle cx="578.4" cy="402.4" r="0.5" fill="#fff" opacity="0.5"/><circle cx="576.8" cy="360.7" r="0.5" fill="#fff" opacity="0.5"/><circle cx="577.4" cy="341.3" r="0.5" fill="#fff" opacity="0.5"/><circle cx="577.0" cy="406.7" r="0.5" fill="#fff" opacity="0.5"/><circle cx="574.7" cy="378.1" r="0.5" fill="#fff" opacity="0.5"/><circle cx="578.4" cy="342.0" r="0.5" fill="#fff" opacity="0.5"/><circle cx="574.2" cy="353.8" r="0.5" fill="#fff" opacity="0.5"/><circle cx="578.7" cy="347.3" r="0.5" fill="#fff" opacity="0.5"/><circle cx="573.9" cy="379.3" r="0.5" fill="#fff" opacity="0.5"/><circle cx="581.5" cy="353.0" r="0.5" fill="#fff" opacity="0.5"/><circle cx="578.3" cy="352.3" r="0.5" fill="#fff" opacity="0.5"/><circle cx="580.0" cy="367.1" r="0.5" fill="#fff" opacity="0.5"/><circle cx="580.1" cy="380.7" r="0.5" fill="#fff" opacity="0.5"/><circle cx="575.3" cy="375.6" r="0.5" fill="#fff" opacity="0.5"/><circle cx="574.8" cy="349.1" r="0.5" fill="#fff" opacity="0.5"/><circle cx="576.5" cy="397.1" r="0.5" fill="#fff" opacity="0.5"/><circle cx="578.9" cy="337.8" r="0.5" fill="#fff" opacity="0.5"/><circle cx="580.9" cy="350.7" r="0.5" fill="#fff" opacity="0.5"/><circle cx="577.7" cy="342.3" r="0.5" fill="#fff" opacity="0.5"/><circle cx="580.4" cy="352.5" r="0.5" fill="#fff" opacity="0.5"/><circle cx="578.9" cy="381.5" r="0.5" fill="#fff" opacity="0.5"/><circle cx="579.4" cy="392.3" r="0.5" fill="#fff" opacity="0.5"/><circle cx="578.6" cy="361.6" r="0.5" fill="#fff" opacity="0.5"/><circle cx="574.7" cy="369.0" r="0.5" fill="#fff" opacity="0.5"/><circle cx="578.1" cy="397.8" r="0.5" fill="#fff" opacity="0.5"/><circle cx="576.8" cy="396.3" r="0.5" fill="#fff" opacity="0.5"/><circle cx="577.5" cy="375.9" r="0.5" fill="#fff" opacity="0.5"/><circle cx="575.4" cy="389.9" r="0.5" fill="#fff" opacity="0.5"/><circle cx="577.7" cy="361.6" r="0.5" fill="#fff" opacity="0.5"/><circle cx="578.0" cy="341.3" r="0.5" fill="#fff" opacity="0.5"/><circle cx="577.4" cy="390.4" r="0.5" fill="#fff" opacity="0.5"/><circle cx="578.6" cy="384.0" r="0.5" fill="#fff" opacity="0.5"/><circle cx="576.6" cy="351.8" r="0.5" fill="#fff" opacity="0.5"/><circle cx="577.5" cy="409.7" r="0.5" fill="#fff" opacity="0.5"/><circle cx="574.5" cy="367.9" r="0.5" fill="#fff" opacity="0.5"/><circle cx="575.1" cy="352.1" r="0.5" fill="#fff" opacity="0.5"/><circle cx="578.3" cy="404.9" r="0.5" fill="#fff" opacity="0.5"/><circle cx="579.1" cy="400.7" r="0.5" fill="#fff" opacity="0.5"/><circle cx="581.3" cy="381.3" r="0.5" fill="#fff" opacity="0.5"/><circle cx="577.1" cy="375.6" r="0.5" fill="#fff" opacity="0.5"/><circle cx="578.7" cy="406.2" r="0.5" fill="#fff" opacity="0.5"/><circle cx="577.8" cy="406.3" r="0.5" fill="#fff" opacity="0.5"/><circle cx="577.4" cy="393.2" r="0.5" fill="#fff" opacity="0.5"/><circle cx="578.6" cy="409.8" r="0.5" fill="#fff" opacity="0.5"/><circle cx="581.3" cy="357.6" r="0.5" fill="#fff" opacity="0.5"/><circle cx="574.8" cy="349.7" r="0.5" fill="#fff" opacity="0.5"/><circle cx="576.6" cy="389.5" r="0.5" fill="#fff" opacity="0.5"/><circle cx="578.9" cy="374.4" r="0.5" fill="#fff" opacity="0.5"/><circle cx="578.5" cy="339.0" r="0.5" fill="#fff" opacity="0.5"/><circle cx="577.3" cy="356.4" r="0.5" fill="#fff" opacity="0.5"/><circle cx="579.7" cy="361.5" r="0.5" fill="#fff" opacity="0.5"/><circle cx="576.8" cy="391.3" r="0.5" fill="#fff" opacity="0.5"/>
<circle cx="642.3" cy="323.5" r="0.5" fill="#fff" opacity="0.5"/><circle cx="641.1" cy="330.9" r="0.5" fill="#fff" opacity="0.5"/><circle cx="644.7" cy="324.7" r="0.5" fill="#fff" opacity="0.5"/><circle cx="645.8" cy="337.8" r="0.5" fill="#fff" opacity="0.5"/><circle cx="645.0" cy="344.5" r="0.5" fill="#fff" opacity="0.5"/><circle cx="641.5" cy="329.9" r="0.5" fill="#fff" opacity="0.5"/><circle cx="643.1" cy="328.5" r="0.5" fill="#fff" opacity="0.5"/><circle cx="643.5" cy="333.6" r="0.5" fill="#fff" opacity="0.5"/><circle cx="645.1" cy="329.6" r="0.5" fill="#fff" opacity="0.5"/><circle cx="643.1" cy="327.8" r="0.5" fill="#fff" opacity="0.5"/><circle cx="644.5" cy="342.3" r="0.5" fill="#fff" opacity="0.5"/><circle cx="642.0" cy="328.1" r="0.5" fill="#fff" opacity="0.5"/><circle cx="640.8" cy="340.4" r="0.5" fill="#fff" opacity="0.5"/><circle cx="643.5" cy="324.2" r="0.5" fill="#fff" opacity="0.5"/><circle cx="641.6" cy="333.9" r="0.5" fill="#fff" opacity="0.5"/><circle cx="641.8" cy="322.2" r="0.5" fill="#fff" opacity="0.5"/><circle cx="643.1" cy="339.5" r="0.5" fill="#fff" opacity="0.5"/><circle cx="644.6" cy="344.5" r="0.5" fill="#fff" opacity="0.5"/><circle cx="641.2" cy="344.5" r="0.5" fill="#fff" opacity="0.5"/><circle cx="640.8" cy="325.4" r="0.5" fill="#fff" opacity="0.5"/><circle cx="642.5" cy="331.4" r="0.5" fill="#fff" opacity="0.5"/><circle cx="643.5" cy="322.2" r="0.5" fill="#fff" opacity="0.5"/><circle cx="642.3" cy="323.3" r="0.5" fill="#fff" opacity="0.5"/><circle cx="644.9" cy="326.9" r="0.5" fill="#fff" opacity="0.5"/><circle cx="642.1" cy="331.0" r="0.5" fill="#fff" opacity="0.5"/><circle cx="642.9" cy="322.1" r="0.5" fill="#fff" opacity="0.5"/><circle cx="644.2" cy="336.1" r="0.5" fill="#fff" opacity="0.5"/><circle cx="644.5" cy="342.9" r="0.5" fill="#fff" opacity="0.5"/><circle cx="641.4" cy="326.9" r="0.5" fill="#fff" opacity="0.5"/><circle cx="644.8" cy="339.2" r="0.5" fill="#fff" opacity="0.5"/><circle cx="645.0" cy="333.2" r="0.5" fill="#fff" opacity="0.5"/><circle cx="642.2" cy="334.2" r="0.5" fill="#fff" opacity="0.5"/><circle cx="640.8" cy="325.0" r="0.5" fill="#fff" opacity="0.5"/><circle cx="645.4" cy="336.4" r="0.5" fill="#fff" opacity="0.5"/><circle cx="643.2" cy="342.7" r="0.5" fill="#fff" opacity="0.5"/><circle cx="645.5" cy="337.0" r="0.5" fill="#fff" opacity="0.5"/><circle cx="643.8" cy="340.5" r="0.5" fill="#fff" opacity="0.5"/><circle cx="643.4" cy="330.9" r="0.5" fill="#fff" opacity="0.5"/><circle cx="641.7" cy="325.1" r="0.5" fill="#fff" opacity="0.5"/><circle cx="645.9" cy="337.4" r="0.5" fill="#fff" opacity="0.5"/><circle cx="642.8" cy="334.1" r="0.5" fill="#fff" opacity="0.5"/><circle cx="643.1" cy="329.4" r="0.5" fill="#fff" opacity="0.5"/><circle cx="643.1" cy="340.3" r="0.5" fill="#fff" opacity="0.5"/><circle cx="641.6" cy="344.0" r="0.5" fill="#fff" opacity="0.5"/><circle cx="643.4" cy="328.6" r="0.5" fill="#fff" opacity="0.5"/><circle cx="645.1" cy="330.9" r="0.5" fill="#fff" opacity="0.5"/><circle cx="645.5" cy="340.9" r="0.5" fill="#fff" opacity="0.5"/><circle cx="640.9" cy="335.7" r="0.5" fill="#fff" opacity="0.5"/><circle cx="643.6" cy="334.8" r="0.5" fill="#fff" opacity="0.5"/><circle cx="642.2" cy="332.7" r="0.5" fill="#fff" opacity="0.5"/><circle cx="645.4" cy="338.0" r="0.5" fill="#fff" opacity="0.5"/><circle cx="644.2" cy="323.5" r="0.5" fill="#fff" opacity="0.5"/><circle cx="643.4" cy="329.9" r="0.5" fill="#fff" opacity="0.5"/><circle cx="645.0" cy="342.5" r="0.5" fill="#fff" opacity="0.5"/><circle cx="641.7" cy="336.4" r="0.5" fill="#fff" opacity="0.5"/><circle cx="642.0" cy="343.1" r="0.5" fill="#fff" opacity="0.5"/><circle cx="645.0" cy="330.2" r="0.5" fill="#fff" opacity="0.5"/><circle cx="642.1" cy="328.6" r="0.5" fill="#fff" opacity="0.5"/><circle cx="645.4" cy="343.8" r="0.5" fill="#fff" opacity="0.5"/><circle cx="642.7" cy="328.6" r="0.5" fill="#fff" opacity="0.5"/><circle cx="641.4" cy="327.8" r="0.5" fill="#fff" opacity="0.5"/><circle cx="645.8" cy="327.0" r="0.5" fill="#fff" opacity="0.5"/><circle cx="641.9" cy="322.9" r="0.5" fill="#fff" opacity="0.5"/><circle cx="641.1" cy="325.8" r="0.5" fill="#fff" opacity="0.5"/><circle cx="644.6" cy="333.6" r="0.5" fill="#fff" opacity="0.5"/><circle cx="644.0" cy="341.1" r="0.5" fill="#fff" opacity="0.5"/><circle cx="640.7" cy="340.6" r="0.5" fill="#fff" opacity="0.5"/><circle cx="645.7" cy="327.8" r="0.5" fill="#fff" opacity="0.5"/><circle cx="642.1" cy="322.7" r="0.5" fill="#fff" opacity="0.5"/><circle cx="642.1" cy="332.6" r="0.5" fill="#fff" opacity="0.5"/><circle cx="640.9" cy="334.1" r="0.5" fill="#fff" opacity="0.5"/><circle cx="645.7" cy="326.7" r="0.5" fill="#fff" opacity="0.5"/><circle cx="645.4" cy="324.5" r="0.5" fill="#fff" opacity="0.5"/><circle cx="645.9" cy="325.3" r="0.5" fill="#fff" opacity="0.5"/><circle cx="644.1" cy="337.2" r="0.5" fill="#fff" opacity="0.5"/><circle cx="641.0" cy="324.4" r="0.5" fill="#fff" opacity="0.5"/><circle cx="641.6" cy="339.2" r="0.5" fill="#fff" opacity="0.5"/><circle cx="645.0" cy="325.6" r="0.5" fill="#fff" opacity="0.5"/><circle cx="641.4" cy="342.0" r="0.5" fill="#fff" opacity="0.5"/><circle cx="643.5" cy="344.1" r="0.5" fill="#fff" opacity="0.5"/><circle cx="641.3" cy="330.2" r="0.5" fill="#fff" opacity="0.5"/><circle cx="645.8" cy="330.4" r="0.5" fill="#fff" opacity="0.5"/><circle cx="641.4" cy="327.7" r="0.5" fill="#fff" opacity="0.5"/><circle cx="641.4" cy="324.5" r="0.5" fill="#fff" opacity="0.5"/><circle cx="645.5" cy="329.5" r="0.5" fill="#fff" opacity="0.5"/><circle cx="641.7" cy="322.8" r="0.5" fill="#fff" opacity="0.5"/><circle cx="645.5" cy="343.5" r="0.5" fill="#fff" opacity="0.5"/><circle cx="642.1" cy="344.5" r="0.5" fill="#fff" opacity="0.5"/><circle cx="645.6" cy="329.5" r="0.5" fill="#fff" opacity="0.5"/><circle cx="644.4" cy="332.6" r="0.5" fill="#fff" opacity="0.5"/>
<ellipse cx="643.3" cy="332" rx="3.3" ry="10" fill="#fff" opacity="0.45"/>
<circle cx="511.7" cy="362.4" r="3.2" fill="#fff"/>
<circle cx="577.8" cy="375.9" r="3.2" fill="#fff"/>
<circle cx="643.3" cy="334.3" r="3.4" fill="#fff"/>
</svg>
</body></html>
